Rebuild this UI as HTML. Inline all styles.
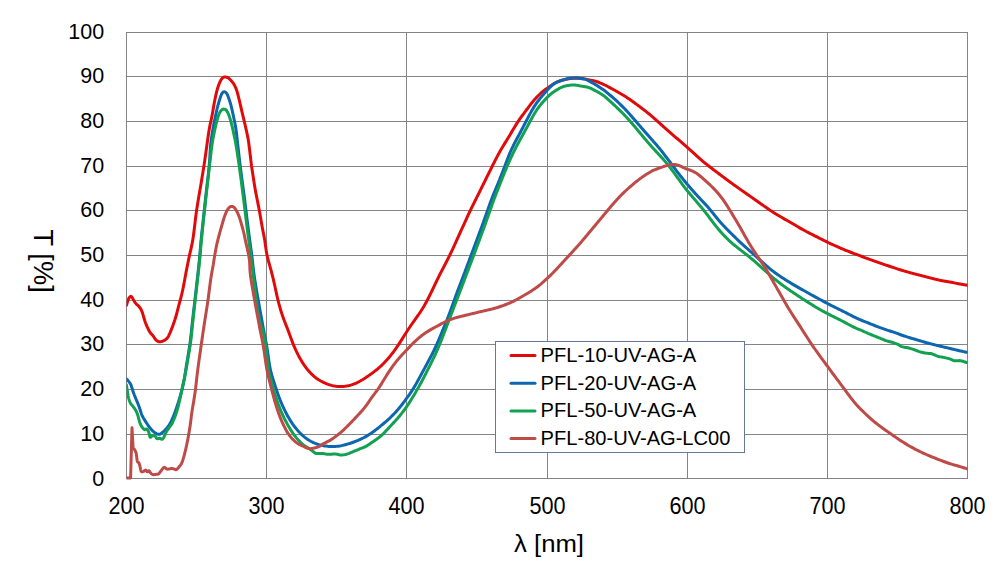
<!DOCTYPE html>
<html><head><meta charset="utf-8"><style>
html,body{margin:0;padding:0;background:#fff;width:999px;height:583px;overflow:hidden}
svg{display:block}
text{font-family:"Liberation Sans",sans-serif;fill:#000}
</style></head><body>
<svg width="999" height="583" viewBox="0 0 999 583">
<rect width="999" height="583" fill="#fff"/>
<g stroke="#848484" stroke-width="1" shape-rendering="crispEdges"><line x1="126" y1="32.5" x2="968" y2="32.5"/><line x1="126" y1="76.5" x2="968" y2="76.5"/><line x1="126" y1="121.5" x2="968" y2="121.5"/><line x1="126" y1="166.5" x2="968" y2="166.5"/><line x1="126" y1="210.5" x2="968" y2="210.5"/><line x1="126" y1="255.5" x2="968" y2="255.5"/><line x1="126" y1="300.5" x2="968" y2="300.5"/><line x1="126" y1="344.5" x2="968" y2="344.5"/><line x1="126" y1="389.5" x2="968" y2="389.5"/><line x1="126" y1="434.5" x2="968" y2="434.5"/><line x1="126" y1="478.5" x2="968" y2="478.5"/><line x1="126.5" y1="32" x2="126.5" y2="479"/><line x1="266.5" y1="32" x2="266.5" y2="479"/><line x1="406.5" y1="32" x2="406.5" y2="479"/><line x1="547.5" y1="32" x2="547.5" y2="479"/><line x1="687.5" y1="32" x2="687.5" y2="479"/><line x1="827.5" y1="32" x2="827.5" y2="479"/><line x1="967.5" y1="32" x2="967.5" y2="479"/></g>
<g font-size="21.5"><text x="104.2" y="39.2" text-anchor="end">100</text><text x="104.2" y="83.2" text-anchor="end">90</text><text x="104.2" y="128.2" text-anchor="end">80</text><text x="104.2" y="173.2" text-anchor="end">70</text><text x="104.2" y="217.2" text-anchor="end">60</text><text x="104.2" y="262.2" text-anchor="end">50</text><text x="104.2" y="307.2" text-anchor="end">40</text><text x="104.2" y="351.2" text-anchor="end">30</text><text x="104.2" y="396.2" text-anchor="end">20</text><text x="104.2" y="441.2" text-anchor="end">10</text><text x="104.2" y="486.2" text-anchor="end">0</text><text x="126.5" y="513.8" text-anchor="middle" font-size="23.2" textLength="36.1" lengthAdjust="spacingAndGlyphs">200</text><text x="266.5" y="513.8" text-anchor="middle" font-size="23.2" textLength="36.1" lengthAdjust="spacingAndGlyphs">300</text><text x="406.5" y="513.8" text-anchor="middle" font-size="23.2" textLength="36.1" lengthAdjust="spacingAndGlyphs">400</text><text x="547.5" y="513.8" text-anchor="middle" font-size="23.2" textLength="36.1" lengthAdjust="spacingAndGlyphs">500</text><text x="687.5" y="513.8" text-anchor="middle" font-size="23.2" textLength="36.1" lengthAdjust="spacingAndGlyphs">600</text><text x="827.5" y="513.8" text-anchor="middle" font-size="23.2" textLength="36.1" lengthAdjust="spacingAndGlyphs">700</text><text x="967.5" y="513.8" text-anchor="middle" font-size="23.2" textLength="36.1" lengthAdjust="spacingAndGlyphs">800</text></g>
<defs><clipPath id="pa"><rect x="126.6" y="0" width="841" height="583"/></clipPath></defs><g clip-path="url(#pa)" fill="none" stroke-width="3" stroke-linejoin="round" stroke-linecap="round"><path d="M126.50,305.40 L126.71,304.66 L126.99,303.60 L127.33,302.36 L127.70,301.08 L128.10,299.92 L128.50,299.00 L128.91,298.26 L129.34,297.56 L129.79,296.97 L130.26,296.55 L130.77,296.37 L131.30,296.50 L131.87,297.04 L132.48,297.97 L133.12,299.13 L133.77,300.39 L134.44,301.59 L135.10,302.60 L135.78,303.40 L136.49,304.12 L137.21,304.78 L137.92,305.43 L138.59,306.09 L139.20,306.80 L139.73,307.49 L140.21,308.13 L140.64,308.78 L141.07,309.53 L141.51,310.44 L142.00,311.60 L142.52,313.09 L143.06,314.85 L143.62,316.79 L144.19,318.78 L144.79,320.72 L145.40,322.50 L146.05,324.17 L146.74,325.82 L147.45,327.43 L148.16,328.93 L148.85,330.31 L149.50,331.50 L150.11,332.46 L150.68,333.20 L151.24,333.81 L151.79,334.36 L152.34,334.93 L152.90,335.60 L153.47,336.40 L154.04,337.28 L154.61,338.18 L155.19,339.03 L155.78,339.79 L156.40,340.40 L157.03,340.86 L157.67,341.23 L158.33,341.50 L159.01,341.67 L159.73,341.74 L160.50,341.70 L161.36,341.55 L162.31,341.27 L163.29,340.90 L164.27,340.44 L165.19,339.90 L166.00,339.30 L166.66,338.71 L167.21,338.14 L167.70,337.50 L168.19,336.69 L168.74,335.62 L169.40,334.20 L170.21,332.35 L171.13,330.11 L172.11,327.62 L173.09,325.00 L174.04,322.35 L174.90,319.80 L175.67,317.31 L176.39,314.77 L177.08,312.21 L177.73,309.66 L178.37,307.14 L179.00,304.70 L179.62,302.39 L180.21,300.20 L180.79,298.06 L181.36,295.86 L181.92,293.54 L182.50,291.00 L183.12,287.99 L183.80,284.53 L184.47,280.94 L185.09,277.54 L185.62,274.66 L186.00,272.60 L186.29,271.12 L186.58,269.65 L186.86,268.17 L187.15,266.69 L187.45,265.22 L187.74,263.74 L188.04,262.27 L188.34,260.80 L188.64,259.32 L188.96,257.85 L189.27,256.38 L189.60,254.91 L189.93,253.45 L190.26,251.98 L190.59,250.51 L190.93,249.05 L191.25,247.58 L191.57,246.11 L191.88,244.64 L192.17,243.17 L192.45,241.69 L192.71,240.21 L192.96,238.73 L193.19,237.24 L193.41,235.76 L193.62,234.27 L193.81,232.78 L194.00,231.28 L194.19,229.79 L194.36,228.30 L194.54,226.81 L194.72,225.31 L194.89,223.82 L195.06,222.32 L195.24,220.83 L195.42,219.34 L195.60,217.84 L195.79,216.35 L195.98,214.86 L196.18,213.37 L196.38,211.88 L196.60,210.39 L196.81,208.90 L197.04,207.41 L197.27,205.93 L197.51,204.44 L197.75,202.96 L197.99,201.47 L198.24,199.99 L198.49,198.51 L198.75,197.03 L199.00,195.54 L199.25,194.06 L199.51,192.58 L199.76,191.09 L200.01,189.61 L200.26,188.13 L200.52,186.65 L200.77,185.16 L201.02,183.68 L201.27,182.20 L201.52,180.71 L201.77,179.23 L202.01,177.75 L202.26,176.26 L202.51,174.78 L202.75,173.29 L203.00,171.81 L203.24,170.32 L203.47,168.84 L203.71,167.35 L203.94,165.87 L204.17,164.38 L204.39,162.89 L204.62,161.41 L204.83,159.92 L205.05,158.43 L205.26,156.94 L205.47,155.45 L205.68,153.96 L205.89,152.47 L206.09,150.98 L206.30,149.49 L206.50,148.00 L206.79,145.93 L207.20,143.03 L207.68,139.61 L208.19,136.00 L208.71,132.52 L209.20,129.50 L209.66,126.96 L210.13,124.63 L210.60,122.44 L211.07,120.29 L211.54,118.11 L212.00,115.80 L212.46,113.32 L212.91,110.74 L213.36,108.12 L213.80,105.53 L214.25,103.04 L214.70,100.70 L215.15,98.50 L215.60,96.39 L216.04,94.38 L216.49,92.46 L216.94,90.67 L217.40,89.00 L217.86,87.47 L218.33,86.06 L218.80,84.76 L219.27,83.58 L219.74,82.49 L220.20,81.50 L220.65,80.60 L221.10,79.81 L221.55,79.11 L222.00,78.51 L222.45,78.01 L222.90,77.60 L223.36,77.30 L223.83,77.13 L224.30,77.05 L224.77,77.04 L225.24,77.06 L225.70,77.10 L226.15,77.15 L226.60,77.23 L227.05,77.34 L227.50,77.51 L227.95,77.72 L228.40,78.00 L228.86,78.35 L229.33,78.77 L229.80,79.24 L230.27,79.75 L230.74,80.28 L231.20,80.80 L231.65,81.30 L232.10,81.79 L232.55,82.29 L233.00,82.84 L233.45,83.46 L233.90,84.20 L234.36,85.02 L234.83,85.91 L235.30,86.87 L235.77,87.93 L236.24,89.10 L236.70,90.40 L237.16,91.86 L237.61,93.48 L238.06,95.21 L238.50,97.02 L238.95,98.86 L239.40,100.70 L239.85,102.56 L240.30,104.47 L240.74,106.41 L241.19,108.38 L241.64,110.35 L242.10,112.30 L242.56,114.24 L243.03,116.17 L243.50,118.10 L243.97,120.04 L244.44,122.01 L244.90,124.00 L245.37,126.07 L245.86,128.22 L246.34,130.39 L246.80,132.52 L247.23,134.55 L247.60,136.40 L247.90,137.91 L248.12,139.10 L248.31,140.18 L248.50,141.38 L248.72,142.91 L249.00,145.00 L249.38,147.99 L249.84,151.77 L250.34,155.89 L250.81,159.89 L251.22,163.31 L251.50,165.70 L251.73,167.18 L251.95,168.67 L252.18,170.15 L252.41,171.63 L252.63,173.11 L252.86,174.60 L253.09,176.08 L253.32,177.56 L253.54,179.05 L253.77,180.53 L254.01,182.01 L254.24,183.49 L254.48,184.97 L254.72,186.45 L254.97,187.93 L255.22,189.41 L255.49,190.89 L255.76,192.36 L256.03,193.84 L256.32,195.31 L256.61,196.78 L256.90,198.25 L257.20,199.72 L257.50,201.19 L257.80,202.66 L258.09,204.13 L258.38,205.60 L258.67,207.07 L258.95,208.55 L259.23,210.02 L259.51,211.50 L259.78,212.97 L260.04,214.45 L260.30,215.92 L260.55,217.40 L260.80,218.88 L261.04,220.36 L261.29,221.84 L261.54,223.32 L261.79,224.80 L262.05,226.27 L262.33,227.75 L262.61,229.22 L262.90,230.69 L263.19,232.16 L263.49,233.63 L263.79,235.10 L264.07,236.57 L264.34,238.04 L264.60,239.52 L264.85,240.99 L265.07,242.47 L265.29,243.96 L265.49,245.44 L265.69,246.93 L265.90,248.41 L266.11,249.89 L266.33,251.37 L266.58,252.84 L266.86,254.31 L267.16,255.77 L267.49,257.23 L267.85,258.68 L268.22,260.12 L268.62,261.57 L269.02,263.01 L269.42,264.45 L269.83,265.89 L270.23,267.34 L270.62,268.78 L271.01,270.23 L271.40,271.68 L271.77,273.13 L272.14,274.59 L272.51,276.04 L272.87,277.50 L273.22,278.96 L273.57,280.42 L273.91,281.88 L274.25,283.34 L274.57,284.80 L274.90,286.27 L275.22,287.73 L275.53,289.20 L275.85,290.66 L276.16,292.13 L276.48,293.60 L276.80,295.06 L277.13,296.52 L277.47,297.99 L277.82,299.44 L278.18,300.90 L278.54,302.35 L278.92,303.80 L279.31,305.25 L279.71,306.70 L280.13,308.14 L280.55,309.58 L280.99,311.01 L281.43,312.44 L281.89,313.87 L282.37,315.29 L282.86,316.71 L283.36,318.12 L283.88,319.53 L284.41,320.93 L284.94,322.33 L285.49,323.73 L286.03,325.12 L286.58,326.52 L287.13,327.92 L287.67,329.31 L288.21,330.72 L288.73,332.12 L289.26,333.52 L289.77,334.93 L290.29,336.34 L290.80,337.75 L291.32,339.16 L291.85,340.56 L292.38,341.96 L292.92,343.36 L293.48,344.75 L294.05,346.14 L294.64,347.51 L295.24,348.89 L295.86,350.25 L296.50,351.61 L297.15,352.96 L297.81,354.30 L298.50,355.63 L299.20,356.96 L299.92,358.27 L300.66,359.57 L301.42,360.86 L302.20,362.13 L303.01,363.39 L303.84,364.64 L304.70,365.86 L305.58,367.07 L306.48,368.26 L307.41,369.43 L308.37,370.58 L309.35,371.70 L310.35,372.80 L311.39,373.87 L312.45,374.91 L313.54,375.92 L314.66,376.88 L315.82,377.80 L317.02,378.67 L318.24,379.49 L319.50,380.26 L320.78,381.00 L322.09,381.69 L323.42,382.34 L324.77,382.96 L326.13,383.55 L327.51,384.09 L328.90,384.59 L330.31,385.03 L331.73,385.43 L333.17,385.76 L334.62,386.04 L336.08,386.25 L337.55,386.41 L339.03,386.50 L340.51,386.54 L341.99,386.52 L343.47,386.44 L344.94,386.30 L346.41,386.11 L347.86,385.85 L349.30,385.52 L350.73,385.14 L352.14,384.69 L353.53,384.19 L354.91,383.64 L356.27,383.04 L357.61,382.40 L358.94,381.72 L360.25,381.01 L361.54,380.26 L362.83,379.50 L364.10,378.71 L365.36,377.90 L366.61,377.07 L367.85,376.23 L369.08,375.38 L370.30,374.51 L371.52,373.64 L372.73,372.75 L373.92,371.85 L375.11,370.93 L376.28,370.00 L377.44,369.06 L378.58,368.09 L379.71,367.10 L380.82,366.10 L381.90,365.07 L382.97,364.02 L384.03,362.96 L385.06,361.88 L386.08,360.78 L387.09,359.67 L388.08,358.55 L389.05,357.41 L390.01,356.26 L390.96,355.10 L391.89,353.93 L392.81,352.74 L393.71,351.55 L394.60,350.34 L395.47,349.12 L396.33,347.89 L397.17,346.65 L398.01,345.41 L398.84,344.16 L399.65,342.90 L400.47,341.64 L401.27,340.38 L402.07,339.11 L402.87,337.84 L403.67,336.57 L404.47,335.30 L405.26,334.03 L406.07,332.76 L406.87,331.50 L407.69,330.24 L408.51,328.98 L409.34,327.74 L410.18,326.49 L411.03,325.25 L411.88,324.02 L412.74,322.79 L413.61,321.57 L414.48,320.35 L415.36,319.13 L416.23,317.92 L417.10,316.70 L417.97,315.47 L418.83,314.25 L419.68,313.01 L420.51,311.77 L421.32,310.51 L422.12,309.24 L422.90,307.97 L423.67,306.68 L424.42,305.38 L425.16,304.08 L425.88,302.76 L426.60,301.45 L427.30,300.12 L428.00,298.79 L428.69,297.46 L429.36,296.12 L430.03,294.78 L430.69,293.44 L431.35,292.09 L432.00,290.73 L432.65,289.38 L433.29,288.02 L433.93,286.67 L434.57,285.31 L435.21,283.96 L435.85,282.60 L436.50,281.25 L437.15,279.90 L437.81,278.55 L438.48,277.21 L439.15,275.86 L439.83,274.53 L440.51,273.19 L441.20,271.86 L441.89,270.53 L442.58,269.20 L443.28,267.87 L443.97,266.54 L444.67,265.21 L445.36,263.88 L446.05,262.55 L446.74,261.21 L447.43,259.88 L448.11,258.54 L448.78,257.20 L449.45,255.86 L450.11,254.51 L450.76,253.16 L451.41,251.81 L452.05,250.45 L452.69,249.10 L453.31,247.73 L453.94,246.37 L454.56,245.00 L455.18,243.64 L455.80,242.27 L456.41,240.90 L457.03,239.53 L457.64,238.17 L458.26,236.80 L458.88,235.43 L459.50,234.07 L460.12,232.70 L460.74,231.33 L461.36,229.97 L461.99,228.60 L462.61,227.24 L463.23,225.88 L463.85,224.51 L464.48,223.15 L465.10,221.78 L465.72,220.42 L466.34,219.05 L466.96,217.69 L467.59,216.32 L468.21,214.96 L468.84,213.60 L469.48,212.24 L470.12,210.88 L470.76,209.53 L471.42,208.18 L472.08,206.83 L472.74,205.49 L473.41,204.14 L474.08,202.80 L474.75,201.46 L475.42,200.12 L476.09,198.78 L476.77,197.44 L477.44,196.09 L478.11,194.75 L478.78,193.41 L479.45,192.07 L480.12,190.72 L480.78,189.38 L481.45,188.04 L482.12,186.69 L482.78,185.35 L483.45,184.00 L484.11,182.66 L484.77,181.31 L485.44,179.97 L486.10,178.62 L486.76,177.28 L487.43,175.93 L488.09,174.59 L488.76,173.24 L489.42,171.90 L490.09,170.55 L490.76,169.21 L491.43,167.87 L492.10,166.53 L492.77,165.18 L493.44,163.84 L494.12,162.50 L494.80,161.17 L495.48,159.83 L496.17,158.50 L496.86,157.17 L497.56,155.84 L498.26,154.52 L498.98,153.20 L499.70,151.89 L500.44,150.58 L501.19,149.29 L501.96,147.99 L502.73,146.71 L503.51,145.43 L504.30,144.15 L505.09,142.88 L505.88,141.61 L506.67,140.33 L507.45,139.05 L508.23,137.77 L509.01,136.49 L509.78,135.20 L510.54,133.91 L511.30,132.62 L512.06,131.33 L512.82,130.03 L513.59,128.74 L514.36,127.46 L515.14,126.18 L515.93,124.90 L516.72,123.63 L517.54,122.37 L518.36,121.12 L519.20,119.88 L520.05,118.65 L520.92,117.43 L521.80,116.21 L522.68,115.00 L523.58,113.80 L524.47,112.59 L525.37,111.39 L526.27,110.19 L527.17,108.99 L528.07,107.79 L528.97,106.59 L529.87,105.40 L530.78,104.20 L531.69,103.02 L532.62,101.85 L533.57,100.70 L534.54,99.56 L535.54,98.45 L536.56,97.37 L537.61,96.30 L538.68,95.26 L539.77,94.24 L540.88,93.23 L542.00,92.24 L543.13,91.25 L544.26,90.28 L545.40,89.30 L545.56,89.21 L545.72,89.13 L545.94,89.01 L546.29,88.81 L546.82,88.49 L547.60,88.00 L548.70,87.26 L550.10,86.28 L551.68,85.18 L553.34,84.06 L554.98,83.03 L556.50,82.20 L557.91,81.57 L559.29,81.05 L560.64,80.62 L561.99,80.25 L563.34,79.92 L564.70,79.60 L566.07,79.29 L567.43,79.02 L568.79,78.78 L570.16,78.58 L571.53,78.42 L572.90,78.30 L574.29,78.22 L575.71,78.19 L577.12,78.19 L578.53,78.23 L579.89,78.30 L581.20,78.40 L582.43,78.53 L583.58,78.69 L584.70,78.89 L585.82,79.11 L586.97,79.35 L588.20,79.60 L589.51,79.86 L590.87,80.12 L592.28,80.41 L593.69,80.72 L595.11,81.08 L596.50,81.50 L597.87,81.98 L599.24,82.52 L600.61,83.10 L601.97,83.71 L603.33,84.35 L604.70,85.00 L606.16,85.72 L607.74,86.53 L609.31,87.37 L610.77,88.16 L612.01,88.82 L612.90,89.30 L614.22,90.02 L615.53,90.74 L616.85,91.47 L618.16,92.20 L619.46,92.94 L620.76,93.69 L622.05,94.46 L623.33,95.24 L624.61,96.03 L625.87,96.83 L627.13,97.65 L628.38,98.48 L629.62,99.32 L630.85,100.18 L632.08,101.05 L633.29,101.92 L634.51,102.81 L635.72,103.70 L636.92,104.59 L638.13,105.48 L639.33,106.38 L640.53,107.29 L641.73,108.19 L642.92,109.10 L644.11,110.02 L645.29,110.94 L646.47,111.87 L647.65,112.81 L648.81,113.75 L649.97,114.71 L651.12,115.67 L652.26,116.64 L653.40,117.62 L654.53,118.61 L655.65,119.61 L656.77,120.61 L657.88,121.62 L659.00,122.62 L660.11,123.63 L661.22,124.64 L662.34,125.64 L663.46,126.64 L664.58,127.64 L665.70,128.63 L666.83,129.63 L667.96,130.62 L669.09,131.60 L670.22,132.59 L671.35,133.58 L672.48,134.56 L673.61,135.55 L674.75,136.53 L675.88,137.52 L677.02,138.50 L678.16,139.47 L679.30,140.45 L680.45,141.42 L681.59,142.39 L682.74,143.36 L683.88,144.34 L685.02,145.31 L686.16,146.29 L687.29,147.28 L688.41,148.27 L689.54,149.27 L690.65,150.27 L691.76,151.28 L692.87,152.30 L693.97,153.32 L695.07,154.34 L696.17,155.36 L697.27,156.37 L698.38,157.38 L699.50,158.39 L700.62,159.38 L701.75,160.36 L702.89,161.34 L704.05,162.30 L705.21,163.25 L706.37,164.19 L707.55,165.13 L708.73,166.05 L709.92,166.97 L711.11,167.89 L712.30,168.79 L713.50,169.70 L714.70,170.60 L715.90,171.50 L717.11,172.39 L718.31,173.29 L719.52,174.19 L720.72,175.09 L721.92,175.99 L723.12,176.89 L724.33,177.79 L725.53,178.69 L726.73,179.59 L727.93,180.48 L729.14,181.38 L730.35,182.27 L731.56,183.15 L732.77,184.04 L733.99,184.91 L735.21,185.78 L736.44,186.65 L737.67,187.52 L738.89,188.38 L740.12,189.24 L741.35,190.11 L742.58,190.97 L743.81,191.83 L745.04,192.69 L746.27,193.56 L747.49,194.42 L748.72,195.28 L749.95,196.15 L751.18,197.01 L752.41,197.88 L753.64,198.74 L754.86,199.60 L756.09,200.46 L757.32,201.32 L758.55,202.19 L759.78,203.05 L761.01,203.91 L762.24,204.77 L763.47,205.63 L764.70,206.49 L765.93,207.35 L767.17,208.21 L768.40,209.06 L769.65,209.90 L770.89,210.73 L772.15,211.56 L773.40,212.38 L774.67,213.18 L775.94,213.98 L777.22,214.77 L778.50,215.54 L779.79,216.31 L781.09,217.07 L782.38,217.83 L783.68,218.58 L784.99,219.32 L786.29,220.07 L787.60,220.81 L788.90,221.56 L790.20,222.30 L791.50,223.05 L792.80,223.80 L794.10,224.56 L795.39,225.32 L796.69,226.07 L797.99,226.83 L799.29,227.58 L800.59,228.33 L801.90,229.07 L803.20,229.80 L804.52,230.53 L805.84,231.24 L807.16,231.95 L808.49,232.65 L809.82,233.34 L811.16,234.02 L812.50,234.70 L813.84,235.37 L815.18,236.04 L816.52,236.71 L817.86,237.39 L819.20,238.07 L820.54,238.74 L821.88,239.42 L823.22,240.10 L824.56,240.78 L825.90,241.44 L827.25,242.10 L828.60,242.75 L829.96,243.39 L831.32,244.02 L832.69,244.64 L834.06,245.25 L835.43,245.86 L836.80,246.47 L838.18,247.07 L839.56,247.67 L840.93,248.27 L842.31,248.86 L843.69,249.45 L845.08,250.02 L846.47,250.59 L847.86,251.15 L849.26,251.70 L850.66,252.24 L852.06,252.77 L853.46,253.30 L854.87,253.83 L856.27,254.36 L857.68,254.89 L859.08,255.42 L860.49,255.95 L861.89,256.49 L863.29,257.02 L864.70,257.55 L866.10,258.07 L867.51,258.60 L868.92,259.12 L870.33,259.63 L871.74,260.14 L873.16,260.65 L874.57,261.15 L875.99,261.64 L877.41,262.14 L878.82,262.63 L880.24,263.11 L881.67,263.60 L883.09,264.08 L884.51,264.57 L885.93,265.05 L887.35,265.53 L888.78,266.01 L890.20,266.49 L891.62,266.96 L893.05,267.44 L894.47,267.91 L895.90,268.38 L897.32,268.85 L898.75,269.31 L900.18,269.77 L901.61,270.22 L903.05,270.66 L904.49,271.09 L905.93,271.51 L907.37,271.92 L908.82,272.33 L910.26,272.73 L911.71,273.12 L913.16,273.51 L914.61,273.89 L916.07,274.27 L917.52,274.64 L918.97,275.02 L920.43,275.40 L921.88,275.77 L923.33,276.15 L924.79,276.53 L926.24,276.91 L927.69,277.28 L929.15,277.66 L930.60,278.03 L932.06,278.40 L933.51,278.76 L934.97,279.12 L936.43,279.46 L937.89,279.79 L939.36,280.11 L940.83,280.42 L942.30,280.71 L943.77,280.99 L945.25,281.26 L946.73,281.53 L948.20,281.80 L949.68,282.06 L951.16,282.33 L952.63,282.60 L954.11,282.87 L955.58,283.15 L957.06,283.42 L958.54,283.70 L960.01,283.97 L961.49,284.25 L962.97,284.51 L964.44,284.78 L965.92,285.04 L967.40,285.30" stroke="#E10A0A"/><path d="M126.50,378.90 L126.76,379.20 L127.13,379.60 L127.57,380.09 L128.03,380.62 L128.49,381.17 L128.90,381.70 L129.26,382.18 L129.60,382.61 L129.93,383.06 L130.27,383.59 L130.62,384.25 L131.00,385.10 L131.41,386.20 L131.85,387.53 L132.31,388.98 L132.77,390.49 L133.24,391.95 L133.70,393.30 L134.16,394.53 L134.63,395.70 L135.10,396.84 L135.57,397.96 L136.04,399.07 L136.50,400.20 L136.95,401.32 L137.40,402.42 L137.85,403.51 L138.30,404.63 L138.75,405.78 L139.20,407.00 L139.66,408.34 L140.13,409.79 L140.60,411.27 L141.07,412.74 L141.54,414.10 L142.00,415.30 L142.44,416.29 L142.86,417.11 L143.27,417.83 L143.70,418.53 L144.17,419.26 L144.70,420.10 L145.30,421.07 L145.96,422.11 L146.66,423.20 L147.38,424.29 L148.10,425.33 L148.80,426.30 L149.48,427.21 L150.17,428.08 L150.85,428.92 L151.53,429.71 L152.22,430.44 L152.90,431.10 L153.60,431.70 L154.31,432.24 L155.03,432.73 L155.73,433.15 L156.39,433.51 L157.00,433.80 L157.54,434.03 L158.03,434.19 L158.49,434.28 L158.92,434.31 L159.35,434.29 L159.80,434.20 L160.24,434.05 L160.65,433.85 L161.06,433.58 L161.49,433.25 L161.96,432.86 L162.50,432.40 L163.11,431.87 L163.79,431.28 L164.51,430.62 L165.25,429.91 L165.99,429.13 L166.70,428.30 L167.39,427.43 L168.07,426.51 L168.76,425.54 L169.44,424.50 L170.12,423.35 L170.80,422.10 L171.48,420.73 L172.17,419.25 L172.85,417.68 L173.53,416.03 L174.22,414.30 L174.90,412.50 L175.60,410.57 L176.32,408.50 L177.04,406.35 L177.74,404.20 L178.40,402.12 L179.00,400.20 L179.53,398.48 L180.00,396.90 L180.43,395.41 L180.84,393.91 L181.26,392.33 L181.70,390.60 L182.19,388.55 L182.73,386.21 L183.27,383.80 L183.77,381.52 L184.19,379.58 L184.50,378.20 L184.72,376.72 L184.94,375.23 L185.16,373.75 L185.38,372.26 L185.61,370.78 L185.83,369.30 L186.07,367.82 L186.30,366.34 L186.54,364.85 L186.78,363.37 L187.02,361.89 L187.27,360.41 L187.52,358.93 L187.77,357.45 L188.01,355.98 L188.26,354.50 L188.51,353.02 L188.75,351.54 L188.99,350.06 L189.23,348.57 L189.46,347.09 L189.68,345.61 L189.89,344.12 L190.09,342.64 L190.28,341.15 L190.46,339.66 L190.64,338.17 L190.81,336.68 L190.98,335.19 L191.15,333.70 L191.31,332.21 L191.47,330.72 L191.63,329.23 L191.79,327.73 L191.95,326.24 L192.11,324.75 L192.27,323.26 L192.43,321.77 L192.59,320.28 L192.75,318.79 L192.91,317.29 L193.08,315.80 L193.24,314.31 L193.41,312.82 L193.58,311.33 L193.76,309.84 L193.93,308.35 L194.11,306.86 L194.29,305.37 L194.46,303.88 L194.64,302.39 L194.82,300.90 L194.99,299.41 L195.17,297.92 L195.34,296.43 L195.51,294.94 L195.68,293.45 L195.85,291.96 L196.02,290.47 L196.19,288.98 L196.36,287.49 L196.53,286.00 L196.70,284.51 L196.87,283.02 L197.03,281.53 L197.20,280.04 L197.37,278.55 L197.54,277.06 L197.70,275.57 L197.87,274.07 L198.03,272.58 L198.20,271.09 L198.36,269.60 L198.52,268.11 L198.68,266.62 L198.84,265.13 L199.00,263.63 L199.15,262.14 L199.30,260.65 L199.44,259.16 L199.58,257.66 L199.72,256.17 L199.85,254.67 L199.98,253.18 L200.11,251.69 L200.23,250.19 L200.36,248.70 L200.48,247.20 L200.61,245.71 L200.74,244.21 L200.88,242.72 L201.01,241.22 L201.16,239.73 L201.30,238.24 L201.45,236.75 L201.60,235.25 L201.76,233.76 L201.91,232.27 L202.07,230.78 L202.22,229.28 L202.38,227.79 L202.54,226.30 L202.70,224.81 L202.86,223.32 L203.02,221.83 L203.18,220.33 L203.34,218.84 L203.50,217.35 L203.66,215.86 L203.82,214.37 L203.98,212.88 L204.14,211.39 L204.31,209.89 L204.47,208.40 L204.63,206.91 L204.79,205.42 L204.95,203.93 L205.11,202.44 L205.28,200.95 L205.44,199.45 L205.60,197.96 L205.76,196.47 L205.92,194.98 L206.08,193.49 L206.25,192.00 L206.30,191.50 L206.63,188.63 L207.11,184.62 L207.66,179.89 L208.24,174.88 L208.77,170.00 L209.20,165.70 L209.51,161.88 L209.76,158.18 L209.96,154.62 L210.14,151.22 L210.35,148.01 L210.60,145.00 L210.90,142.23 L211.22,139.70 L211.56,137.34 L211.90,135.13 L212.25,132.99 L212.60,130.90 L212.94,128.90 L213.27,127.06 L213.61,125.29 L213.95,123.56 L214.31,121.78 L214.70,119.90 L215.11,117.88 L215.55,115.77 L216.01,113.61 L216.47,111.48 L216.94,109.42 L217.40,107.50 L217.87,105.68 L218.36,103.91 L218.84,102.23 L219.32,100.64 L219.78,99.19 L220.20,97.90 L220.58,96.78 L220.92,95.81 L221.24,94.98 L221.56,94.26 L221.87,93.64 L222.20,93.10 L222.54,92.65 L222.89,92.31 L223.24,92.07 L223.60,91.91 L223.95,91.83 L224.30,91.80 L224.65,91.83 L225.00,91.94 L225.36,92.11 L225.71,92.36 L226.06,92.69 L226.40,93.10 L226.73,93.56 L227.04,94.08 L227.36,94.67 L227.68,95.37 L228.02,96.20 L228.40,97.20 L228.82,98.38 L229.28,99.71 L229.76,101.19 L230.24,102.77 L230.73,104.45 L231.20,106.20 L231.66,108.07 L232.13,110.10 L232.59,112.23 L233.05,114.37 L233.49,116.49 L233.90,118.50 L234.29,120.36 L234.66,122.10 L235.01,123.80 L235.34,125.55 L235.67,127.42 L236.00,129.50 L236.31,131.76 L236.60,134.14 L236.88,136.64 L237.17,139.28 L237.47,142.06 L237.80,145.00 L238.15,148.09 L238.52,151.33 L238.90,154.71 L239.30,158.23 L239.74,161.89 L240.20,165.70 L240.74,169.96 L241.37,174.75 L242.02,179.67 L242.64,184.36 L243.19,188.43 L243.60,191.50 L243.86,193.41 L244.00,194.45 L244.06,194.86 L244.08,194.92 L244.08,194.88 L244.10,195.00 L244.28,196.49 L244.46,197.98 L244.64,199.47 L244.82,200.96 L245.00,202.45 L245.18,203.94 L245.36,205.43 L245.54,206.92 L245.72,208.41 L245.91,209.90 L246.09,211.39 L246.27,212.88 L246.45,214.37 L246.64,215.86 L246.82,217.35 L247.00,218.84 L247.19,220.33 L247.37,221.82 L247.56,223.31 L247.75,224.80 L247.94,226.29 L248.12,227.77 L248.31,229.26 L248.51,230.75 L248.70,232.24 L248.89,233.73 L249.09,235.22 L249.29,236.70 L249.49,238.19 L249.69,239.68 L249.90,241.17 L250.10,242.65 L250.31,244.14 L250.51,245.63 L250.71,247.11 L250.92,248.60 L251.12,250.09 L251.31,251.58 L251.50,253.07 L251.69,254.55 L251.87,256.04 L252.05,257.54 L252.22,259.03 L252.39,260.52 L252.55,262.01 L252.72,263.50 L252.88,264.99 L253.05,266.48 L253.23,267.97 L253.40,269.46 L253.59,270.95 L253.78,272.44 L253.97,273.93 L254.18,275.42 L254.39,276.90 L254.61,278.39 L254.83,279.87 L255.06,281.35 L255.29,282.84 L255.53,284.32 L255.77,285.80 L256.02,287.28 L256.27,288.76 L256.52,290.24 L256.77,291.72 L257.02,293.20 L257.28,294.68 L257.54,296.16 L257.79,297.64 L258.05,299.11 L258.31,300.59 L258.57,302.07 L258.84,303.55 L259.10,305.03 L259.36,306.50 L259.63,307.98 L259.89,309.46 L260.15,310.94 L260.42,312.41 L260.69,313.89 L260.95,315.37 L261.22,316.85 L261.48,318.32 L261.75,319.80 L262.02,321.28 L262.29,322.75 L262.56,324.23 L262.83,325.71 L263.10,327.18 L263.37,328.66 L263.65,330.13 L263.93,331.61 L264.21,333.08 L264.50,334.56 L264.79,336.03 L265.08,337.50 L265.37,338.97 L265.65,340.45 L265.94,341.92 L266.21,343.39 L266.48,344.87 L266.74,346.35 L266.99,347.83 L267.23,349.31 L267.46,350.79 L267.68,352.28 L267.89,353.76 L268.10,355.25 L268.30,356.73 L268.51,358.22 L268.71,359.71 L268.93,361.19 L269.15,362.68 L269.38,364.16 L269.63,365.63 L269.89,367.11 L270.18,368.58 L270.49,370.04 L270.83,371.50 L271.20,372.95 L271.59,374.39 L272.01,375.83 L272.44,377.26 L272.88,378.70 L273.33,380.12 L273.79,381.55 L274.25,382.98 L274.71,384.41 L275.17,385.84 L275.63,387.26 L276.10,388.69 L276.57,390.12 L277.04,391.54 L277.53,392.96 L278.02,394.37 L278.53,395.79 L279.05,397.19 L279.58,398.59 L280.13,399.99 L280.69,401.38 L281.26,402.77 L281.85,404.15 L282.46,405.52 L283.08,406.88 L283.71,408.24 L284.36,409.60 L285.02,410.94 L285.69,412.28 L286.38,413.61 L287.08,414.94 L287.80,416.25 L288.54,417.56 L289.30,418.85 L290.08,420.13 L290.88,421.39 L291.70,422.64 L292.55,423.88 L293.42,425.09 L294.31,426.29 L295.23,427.48 L296.16,428.64 L297.12,429.79 L298.11,430.91 L299.12,432.02 L300.15,433.09 L301.21,434.14 L302.30,435.16 L303.42,436.15 L304.56,437.10 L305.74,438.02 L306.94,438.89 L308.17,439.72 L309.43,440.51 L310.72,441.25 L312.03,441.95 L313.37,442.59 L314.73,443.18 L316.11,443.71 L317.51,444.20 L318.93,444.63 L320.37,445.01 L321.82,445.35 L323.27,445.65 L324.74,445.90 L326.22,446.11 L327.70,446.29 L329.18,446.42 L330.66,446.51 L332.15,446.54 L333.63,446.53 L335.12,446.46 L336.60,446.34 L338.07,446.17 L339.55,445.96 L341.01,445.70 L342.48,445.40 L343.93,445.07 L345.38,444.70 L346.83,444.31 L348.26,443.89 L349.69,443.45 L351.12,442.98 L352.53,442.49 L353.94,441.98 L355.34,441.45 L356.73,440.90 L358.12,440.32 L359.49,439.72 L360.85,439.09 L362.19,438.44 L363.53,437.77 L364.85,437.06 L366.16,436.33 L367.45,435.58 L368.73,434.80 L369.99,434.00 L371.24,433.17 L372.47,432.32 L373.69,431.45 L374.89,430.56 L376.08,429.65 L377.27,428.73 L378.44,427.80 L379.61,426.85 L380.77,425.90 L381.92,424.94 L383.07,423.98 L384.21,423.01 L385.35,422.03 L386.48,421.05 L387.60,420.05 L388.71,419.05 L389.81,418.03 L390.90,416.99 L391.97,415.95 L393.03,414.89 L394.08,413.81 L395.10,412.72 L396.12,411.62 L397.12,410.50 L398.10,409.37 L399.07,408.22 L400.02,407.07 L400.96,405.90 L401.88,404.72 L402.80,403.53 L403.70,402.33 L404.60,401.13 L405.49,399.92 L406.37,398.71 L407.25,397.49 L408.13,396.28 L408.99,395.05 L409.85,393.82 L410.70,392.59 L411.53,391.34 L412.35,390.09 L413.15,388.82 L413.94,387.55 L414.71,386.26 L415.47,384.97 L416.21,383.67 L416.94,382.36 L417.67,381.05 L418.39,379.73 L419.11,378.41 L419.82,377.09 L420.54,375.77 L421.25,374.45 L421.96,373.13 L422.67,371.80 L423.38,370.48 L424.09,369.16 L424.80,367.84 L425.51,366.52 L426.23,365.20 L426.94,363.87 L427.65,362.55 L428.36,361.23 L429.06,359.91 L429.77,358.58 L430.47,357.25 L431.16,355.92 L431.85,354.59 L432.53,353.25 L433.21,351.91 L433.87,350.57 L434.53,349.22 L435.17,347.86 L435.80,346.50 L436.42,345.14 L437.03,343.77 L437.63,342.39 L438.23,341.01 L438.81,339.63 L439.40,338.25 L439.98,336.86 L440.55,335.48 L441.13,334.09 L441.71,332.71 L442.28,331.32 L442.86,329.94 L443.44,328.55 L444.01,327.16 L444.58,325.78 L445.15,324.39 L445.72,323.00 L446.29,321.61 L446.85,320.22 L447.40,318.82 L447.95,317.42 L448.49,316.03 L449.03,314.62 L449.55,313.22 L450.08,311.81 L450.59,310.40 L451.11,308.99 L451.61,307.58 L452.12,306.17 L452.63,304.75 L453.13,303.34 L453.63,301.93 L454.14,300.51 L454.64,299.10 L455.15,297.69 L455.66,296.28 L456.18,294.87 L456.70,293.46 L457.22,292.05 L457.74,290.64 L458.27,289.24 L458.81,287.84 L459.34,286.43 L459.88,285.03 L460.42,283.63 L460.95,282.23 L461.49,280.83 L462.03,279.43 L462.56,278.03 L463.10,276.62 L463.63,275.22 L464.16,273.82 L464.69,272.41 L465.22,271.01 L465.75,269.60 L466.27,268.20 L466.80,266.79 L467.32,265.38 L467.85,263.98 L468.37,262.57 L468.90,261.17 L469.42,259.76 L469.95,258.35 L470.47,256.95 L471.00,255.54 L471.52,254.13 L472.05,252.73 L472.58,251.32 L473.10,249.92 L473.63,248.51 L474.15,247.11 L474.68,245.70 L475.21,244.29 L475.73,242.89 L476.26,241.48 L476.78,240.08 L477.30,238.67 L477.83,237.26 L478.35,235.85 L478.87,234.45 L479.39,233.04 L479.91,231.63 L480.43,230.22 L480.95,228.82 L481.47,227.41 L481.99,226.00 L482.50,224.59 L483.02,223.18 L483.53,221.77 L484.04,220.36 L484.55,218.94 L485.05,217.53 L485.55,216.12 L486.05,214.70 L486.55,213.28 L487.05,211.87 L487.55,210.45 L488.04,209.04 L488.54,207.62 L489.04,206.20 L489.54,204.79 L490.05,203.38 L490.57,201.97 L491.09,200.56 L491.62,199.16 L492.16,197.76 L492.71,196.36 L493.26,194.97 L493.83,193.58 L494.40,192.19 L494.97,190.80 L495.55,189.42 L496.12,188.03 L496.70,186.65 L497.28,185.26 L497.85,183.88 L498.43,182.49 L498.99,181.10 L499.56,179.71 L500.11,178.31 L500.67,176.92 L501.22,175.52 L501.76,174.12 L502.30,172.72 L502.84,171.32 L503.38,169.92 L503.91,168.52 L504.45,167.12 L504.98,165.71 L505.51,164.31 L506.04,162.90 L506.57,161.50 L507.10,160.10 L507.64,158.70 L508.18,157.30 L508.73,155.90 L509.29,154.51 L509.86,153.12 L510.45,151.74 L511.05,150.37 L511.67,149.00 L512.30,147.65 L512.95,146.30 L513.62,144.96 L514.30,143.62 L514.99,142.29 L515.69,140.96 L516.40,139.64 L517.11,138.32 L517.82,136.99 L518.53,135.67 L519.24,134.35 L519.95,133.02 L520.65,131.70 L521.35,130.37 L522.05,129.05 L522.75,127.72 L523.45,126.39 L524.14,125.06 L524.83,123.72 L525.52,122.39 L526.21,121.06 L526.91,119.73 L527.60,118.40 L528.30,117.07 L529.00,115.74 L529.70,114.42 L530.42,113.10 L531.14,111.78 L531.88,110.48 L532.63,109.18 L533.40,107.90 L534.20,106.63 L535.01,105.37 L535.84,104.13 L536.70,102.90 L537.57,101.69 L538.47,100.49 L539.39,99.30 L540.33,98.13 L541.28,96.98 L542.24,95.83 L543.22,94.69 L544.21,93.56 L545.20,92.44 L546.20,91.32 L547.20,90.20 L547.66,89.72 L548.29,89.04 L549.03,88.24 L549.84,87.40 L550.65,86.59 L551.40,85.90 L552.11,85.31 L552.83,84.76 L553.54,84.25 L554.26,83.77 L554.98,83.32 L555.70,82.90 L556.42,82.51 L557.13,82.17 L557.85,81.85 L558.57,81.56 L559.28,81.28 L560.00,81.00 L560.72,80.74 L561.43,80.49 L562.15,80.26 L562.87,80.03 L563.58,79.82 L564.30,79.60 L565.02,79.38 L565.73,79.16 L566.45,78.94 L567.17,78.73 L567.88,78.55 L568.60,78.40 L569.32,78.28 L570.03,78.19 L570.75,78.12 L571.47,78.07 L572.18,78.03 L572.90,78.00 L573.63,77.97 L574.39,77.96 L575.14,77.95 L575.88,77.96 L576.57,77.97 L577.20,78.00 L577.72,78.04 L578.15,78.09 L578.54,78.14 L578.94,78.21 L579.41,78.30 L580.00,78.40 L580.77,78.52 L581.67,78.65 L582.64,78.79 L583.62,78.95 L584.53,79.12 L585.30,79.30 L585.86,79.46 L586.24,79.58 L586.56,79.72 L586.92,79.91 L587.43,80.19 L588.20,80.60 L589.27,81.17 L590.57,81.86 L592.02,82.64 L593.54,83.48 L595.06,84.34 L596.50,85.20 L597.97,86.13 L599.54,87.17 L601.12,88.24 L602.58,89.24 L603.81,90.09 L604.70,90.70 L605.86,91.66 L607.01,92.62 L608.16,93.58 L609.31,94.54 L610.46,95.51 L611.60,96.48 L612.73,97.46 L613.86,98.45 L614.98,99.44 L616.10,100.45 L617.20,101.46 L618.30,102.48 L619.39,103.51 L620.47,104.55 L621.54,105.60 L622.59,106.67 L623.65,107.74 L624.69,108.81 L625.72,109.90 L626.74,111.00 L627.76,112.10 L628.77,113.21 L629.77,114.32 L630.77,115.44 L631.77,116.56 L632.75,117.69 L633.74,118.82 L634.72,119.96 L635.70,121.09 L636.68,122.23 L637.66,123.36 L638.64,124.50 L639.62,125.64 L640.60,126.77 L641.58,127.91 L642.57,129.04 L643.55,130.17 L644.53,131.30 L645.52,132.44 L646.51,133.57 L647.49,134.69 L648.48,135.82 L649.47,136.95 L650.47,138.07 L651.46,139.20 L652.45,140.32 L653.44,141.45 L654.44,142.57 L655.43,143.70 L656.41,144.83 L657.39,145.96 L658.36,147.10 L659.32,148.25 L660.27,149.41 L661.20,150.58 L662.12,151.75 L663.03,152.93 L663.94,154.12 L664.84,155.31 L665.74,156.50 L666.65,157.69 L667.56,158.87 L668.47,160.06 L669.38,161.25 L670.29,162.44 L671.19,163.63 L672.09,164.83 L672.98,166.04 L673.86,167.25 L674.75,168.45 L675.64,169.66 L676.53,170.86 L677.44,172.06 L678.35,173.25 L679.26,174.44 L680.19,175.62 L681.12,176.79 L682.06,177.96 L683.01,179.13 L683.95,180.29 L684.91,181.45 L685.86,182.60 L686.82,183.75 L687.79,184.90 L688.76,186.04 L689.74,187.18 L690.72,188.32 L691.70,189.44 L692.70,190.57 L693.69,191.69 L694.69,192.81 L695.70,193.92 L696.70,195.03 L697.72,196.14 L698.73,197.24 L699.75,198.33 L700.78,199.42 L701.81,200.51 L702.85,201.60 L703.88,202.68 L704.90,203.77 L705.92,204.87 L706.93,205.98 L707.92,207.10 L708.90,208.23 L709.87,209.38 L710.82,210.53 L711.77,211.69 L712.71,212.86 L713.65,214.03 L714.59,215.20 L715.52,216.37 L716.47,217.53 L717.42,218.70 L718.37,219.85 L719.34,220.99 L720.32,222.13 L721.31,223.25 L722.32,224.36 L723.33,225.46 L724.36,226.55 L725.40,227.63 L726.45,228.70 L727.50,229.77 L728.56,230.83 L729.63,231.89 L730.69,232.95 L731.75,234.01 L732.82,235.06 L733.88,236.12 L734.94,237.18 L736.01,238.24 L737.08,239.29 L738.15,240.34 L739.23,241.38 L740.31,242.41 L741.40,243.44 L742.50,244.46 L743.61,245.47 L744.73,246.47 L745.85,247.47 L746.97,248.46 L748.10,249.45 L749.23,250.44 L750.35,251.43 L751.48,252.42 L752.60,253.41 L753.72,254.41 L754.84,255.41 L755.96,256.41 L757.07,257.42 L758.18,258.42 L759.30,259.43 L760.41,260.44 L761.52,261.44 L762.63,262.45 L763.75,263.45 L764.87,264.45 L766.00,265.44 L767.13,266.42 L768.27,267.39 L769.42,268.35 L770.58,269.30 L771.75,270.23 L772.93,271.15 L774.13,272.06 L775.33,272.95 L776.55,273.82 L777.78,274.69 L779.01,275.54 L780.25,276.38 L781.49,277.22 L782.75,278.04 L784.00,278.86 L785.27,279.67 L786.53,280.47 L787.81,281.26 L789.08,282.05 L790.37,282.83 L791.65,283.60 L792.94,284.36 L794.24,285.11 L795.54,285.86 L796.84,286.61 L798.14,287.35 L799.45,288.09 L800.75,288.83 L802.06,289.57 L803.37,290.31 L804.67,291.04 L805.98,291.78 L807.29,292.52 L808.59,293.25 L809.90,293.98 L811.22,294.71 L812.53,295.43 L813.84,296.16 L815.16,296.87 L816.48,297.59 L817.80,298.30 L819.12,299.02 L820.44,299.73 L821.76,300.44 L823.08,301.15 L824.40,301.86 L825.72,302.57 L827.05,303.28 L828.37,303.98 L829.70,304.67 L831.04,305.36 L832.37,306.03 L833.72,306.70 L835.06,307.36 L836.41,308.02 L837.76,308.67 L839.11,309.32 L840.46,309.98 L841.80,310.64 L843.14,311.32 L844.47,312.00 L845.81,312.68 L847.13,313.38 L848.46,314.07 L849.79,314.76 L851.12,315.45 L852.46,316.13 L853.80,316.80 L855.15,317.45 L856.50,318.09 L857.87,318.72 L859.24,319.33 L860.61,319.92 L861.99,320.50 L863.38,321.06 L864.77,321.62 L866.17,322.17 L867.56,322.72 L868.96,323.26 L870.35,323.82 L871.74,324.37 L873.14,324.93 L874.53,325.49 L875.92,326.05 L877.31,326.60 L878.70,327.14 L880.11,327.67 L881.51,328.18 L882.92,328.68 L884.34,329.16 L885.76,329.64 L887.19,330.10 L888.62,330.56 L890.04,331.01 L891.47,331.48 L892.89,331.95 L894.30,332.44 L895.72,332.94 L897.12,333.45 L898.53,333.96 L899.93,334.48 L901.34,334.99 L902.75,335.49 L904.16,335.98 L905.58,336.45 L907.00,336.91 L908.43,337.35 L909.87,337.78 L911.30,338.21 L912.74,338.63 L914.18,339.05 L915.62,339.47 L917.06,339.90 L918.49,340.32 L919.93,340.75 L921.37,341.17 L922.81,341.60 L924.25,342.02 L925.69,342.44 L927.13,342.85 L928.58,343.25 L930.02,343.65 L931.47,344.03 L932.92,344.41 L934.38,344.78 L935.83,345.13 L937.29,345.48 L938.75,345.83 L940.21,346.17 L941.67,346.50 L943.14,346.84 L944.60,347.17 L946.06,347.52 L947.52,347.86 L948.97,348.21 L950.43,348.57 L951.89,348.92 L953.34,349.28 L954.80,349.63 L956.26,349.99 L957.72,350.33 L959.18,350.67 L960.64,351.00 L962.10,351.33 L963.57,351.66 L965.03,351.98 L966.50,352.30" stroke="#0D66B0"/><path d="M126.50,385.10 L126.68,386.35 L126.93,388.11 L127.22,390.18 L127.54,392.34 L127.87,394.38 L128.20,396.10 L128.52,397.51 L128.85,398.80 L129.19,399.97 L129.54,401.03 L129.91,402.01 L130.30,402.90 L130.71,403.67 L131.15,404.29 L131.61,404.82 L132.07,405.31 L132.54,405.82 L133.00,406.40 L133.47,407.04 L133.96,407.70 L134.44,408.37 L134.92,409.06 L135.38,409.77 L135.80,410.50 L136.18,411.23 L136.52,411.95 L136.84,412.69 L137.16,413.47 L137.47,414.34 L137.80,415.30 L138.14,416.43 L138.49,417.72 L138.84,419.09 L139.20,420.44 L139.55,421.71 L139.90,422.80 L140.24,423.71 L140.58,424.50 L140.91,425.20 L141.26,425.83 L141.62,426.43 L142.00,427.00 L142.42,427.58 L142.88,428.14 L143.35,428.66 L143.82,429.11 L144.28,429.46 L144.70,429.70 L145.09,429.73 L145.45,429.57 L145.79,429.31 L146.13,429.06 L146.46,428.92 L146.80,429.00 L147.15,429.31 L147.50,429.78 L147.84,430.36 L148.18,431.01 L148.50,431.70 L148.80,432.40 L149.06,433.19 L149.29,434.12 L149.50,435.09 L149.71,436.00 L149.94,436.74 L150.20,437.20 L150.49,437.32 L150.79,437.17 L151.11,436.85 L151.45,436.46 L151.81,436.11 L152.20,435.90 L152.63,435.79 L153.10,435.70 L153.60,435.65 L154.10,435.65 L154.57,435.73 L155.00,435.90 L155.37,436.23 L155.70,436.71 L156.00,437.27 L156.30,437.82 L156.63,438.29 L157.00,438.60 L157.43,438.71 L157.90,438.67 L158.39,438.56 L158.89,438.41 L159.36,438.31 L159.80,438.30 L160.19,438.43 L160.56,438.65 L160.90,438.91 L161.23,439.15 L161.56,439.30 L161.90,439.30 L162.24,439.16 L162.57,438.93 L162.90,438.61 L163.23,438.21 L163.56,437.74 L163.90,437.20 L164.24,436.55 L164.57,435.77 L164.91,434.92 L165.25,434.05 L165.61,433.19 L166.00,432.40 L166.41,431.68 L166.83,431.01 L167.27,430.35 L167.73,429.69 L168.20,429.02 L168.70,428.30 L169.27,427.48 L169.91,426.57 L170.57,425.64 L171.19,424.77 L171.72,424.03 L172.10,423.50 L172.70,422.13 L173.30,420.75 L173.88,419.37 L174.45,417.99 L175.00,416.60 L175.52,415.19 L176.02,413.78 L176.49,412.36 L176.93,410.93 L177.35,409.50 L177.75,408.05 L178.14,406.60 L178.50,405.15 L178.86,403.69 L179.21,402.23 L179.55,400.77 L179.88,399.31 L180.21,397.84 L180.54,396.38 L180.86,394.91 L181.18,393.44 L181.50,391.98 L181.81,390.51 L182.12,389.04 L182.43,387.57 L182.74,386.10 L183.04,384.63 L183.35,383.16 L183.65,381.69 L183.96,380.23 L184.26,378.76 L184.57,377.29 L184.87,375.82 L185.17,374.35 L185.47,372.88 L185.75,371.41 L186.03,369.93 L186.31,368.46 L186.57,366.98 L186.82,365.50 L187.07,364.02 L187.31,362.54 L187.55,361.06 L187.79,359.58 L188.03,358.10 L188.28,356.62 L188.53,355.14 L188.78,353.66 L189.03,352.18 L189.29,350.70 L189.54,349.22 L189.78,347.74 L190.02,346.26 L190.24,344.78 L190.46,343.29 L190.66,341.81 L190.85,340.32 L191.02,338.83 L191.20,337.34 L191.36,335.85 L191.52,334.36 L191.67,332.86 L191.83,331.37 L191.98,329.88 L192.13,328.38 L192.29,326.89 L192.44,325.40 L192.60,323.90 L192.76,322.41 L192.92,320.92 L193.08,319.43 L193.24,317.93 L193.40,316.44 L193.56,314.95 L193.73,313.46 L193.89,311.97 L194.06,310.47 L194.22,308.98 L194.39,307.49 L194.56,306.00 L194.73,304.51 L194.89,303.02 L195.06,301.52 L195.23,300.03 L195.40,298.54 L195.57,297.05 L195.74,295.56 L195.91,294.07 L196.08,292.57 L196.25,291.08 L196.42,289.59 L196.58,288.10 L196.75,286.61 L196.92,285.12 L197.09,283.63 L197.26,282.13 L197.43,280.64 L197.60,279.15 L197.76,277.66 L197.93,276.17 L198.10,274.68 L198.26,273.18 L198.43,271.69 L198.59,270.20 L198.75,268.71 L198.92,267.22 L199.08,265.72 L199.23,264.23 L199.39,262.74 L199.54,261.24 L199.69,259.75 L199.83,258.26 L199.97,256.76 L200.10,255.27 L200.23,253.77 L200.36,252.28 L200.48,250.78 L200.61,249.28 L200.73,247.79 L200.86,246.29 L200.99,244.80 L201.12,243.30 L201.26,241.81 L201.40,240.31 L201.54,238.82 L201.69,237.33 L201.84,235.83 L201.99,234.34 L202.15,232.85 L202.30,231.35 L202.46,229.86 L202.62,228.37 L202.77,226.87 L202.93,225.38 L203.09,223.89 L203.25,222.40 L203.41,220.90 L203.57,219.41 L203.73,217.92 L203.89,216.43 L204.05,214.93 L204.22,213.44 L204.38,211.95 L204.54,210.46 L204.70,208.97 L204.86,207.47 L205.02,205.98 L205.19,204.49 L205.35,203.00 L205.51,201.50 L205.67,200.01 L205.84,198.52 L206.00,197.03 L206.16,195.53 L206.32,194.04 L206.49,192.55 L206.65,191.06 L206.82,189.57 L206.98,188.07 L207.14,186.58 L207.31,185.09 L207.48,183.60 L207.64,182.11 L207.81,180.62 L207.98,179.12 L208.15,177.63 L208.31,176.14 L208.48,174.65 L208.65,173.16 L208.82,171.67 L208.99,170.17 L209.16,168.68 L209.33,167.19 L209.50,165.70 L209.78,163.34 L210.17,159.99 L210.62,156.06 L211.11,151.98 L211.58,148.15 L212.00,145.00 L212.35,142.57 L212.67,140.54 L212.98,138.78 L213.29,137.12 L213.63,135.44 L214.00,133.60 L214.42,131.56 L214.88,129.42 L215.36,127.26 L215.84,125.14 L216.33,123.13 L216.80,121.30 L217.26,119.63 L217.71,118.06 L218.16,116.59 L218.60,115.26 L219.05,114.05 L219.50,113.00 L219.96,112.12 L220.42,111.39 L220.89,110.81 L221.34,110.33 L221.78,109.94 L222.20,109.60 L222.58,109.34 L222.94,109.19 L223.29,109.12 L223.62,109.11 L223.96,109.15 L224.30,109.20 L224.64,109.25 L224.98,109.29 L225.31,109.38 L225.66,109.55 L226.02,109.84 L226.40,110.30 L226.81,110.91 L227.25,111.66 L227.71,112.52 L228.17,113.50 L228.64,114.60 L229.10,115.80 L229.56,117.13 L230.03,118.60 L230.50,120.18 L230.97,121.85 L231.44,123.60 L231.90,125.40 L232.37,127.35 L232.86,129.49 L233.34,131.69 L233.80,133.87 L234.23,135.91 L234.60,137.70 L234.89,139.05 L235.10,140.01 L235.27,140.83 L235.45,141.76 L235.68,143.07 L236.00,145.00 L236.43,147.62 L236.93,150.72 L237.48,154.19 L238.05,157.93 L238.63,161.80 L239.20,165.70 L239.79,170.00 L240.44,174.88 L241.10,179.89 L241.71,184.62 L242.23,188.63 L242.60,191.50 L242.80,192.99 L242.99,194.48 L243.18,195.96 L243.37,197.45 L243.56,198.94 L243.75,200.43 L243.93,201.92 L244.12,203.41 L244.30,204.90 L244.48,206.39 L244.66,207.88 L244.84,209.37 L245.02,210.86 L245.21,212.35 L245.39,213.84 L245.57,215.33 L245.75,216.82 L245.94,218.30 L246.12,219.79 L246.31,221.28 L246.49,222.77 L246.68,224.26 L246.87,225.75 L247.06,227.24 L247.25,228.73 L247.44,230.22 L247.63,231.70 L247.82,233.19 L248.02,234.68 L248.22,236.17 L248.42,237.66 L248.62,239.14 L248.82,240.63 L249.03,242.12 L249.23,243.60 L249.44,245.09 L249.64,246.58 L249.85,248.06 L250.05,249.55 L250.25,251.04 L250.45,252.53 L250.64,254.01 L250.83,255.50 L251.02,256.99 L251.21,258.48 L251.39,259.97 L251.57,261.46 L251.75,262.95 L251.93,264.44 L252.11,265.93 L252.29,267.42 L252.46,268.91 L252.64,270.40 L252.82,271.89 L253.00,273.38 L253.18,274.87 L253.36,276.36 L253.54,277.85 L253.72,279.34 L253.90,280.83 L254.08,282.32 L254.26,283.81 L254.44,285.30 L254.62,286.79 L254.80,288.28 L254.99,289.77 L255.17,291.26 L255.35,292.75 L255.53,294.24 L255.71,295.73 L255.89,297.22 L256.08,298.71 L256.27,300.20 L256.45,301.68 L256.65,303.17 L256.84,304.66 L257.04,306.15 L257.25,307.63 L257.46,309.12 L257.69,310.60 L257.92,312.08 L258.18,313.56 L258.45,315.03 L258.74,316.50 L259.06,317.96 L259.40,319.41 L259.77,320.86 L260.17,322.30 L260.58,323.74 L261.00,325.17 L261.43,326.61 L261.86,328.04 L262.28,329.48 L262.69,330.92 L263.08,332.36 L263.45,333.81 L263.79,335.27 L264.12,336.73 L264.43,338.20 L264.73,339.67 L265.00,341.14 L265.26,342.62 L265.50,344.10 L265.72,345.58 L265.93,347.06 L266.13,348.55 L266.30,350.04 L266.47,351.53 L266.62,353.02 L266.77,354.51 L266.90,356.01 L267.04,357.50 L267.17,359.00 L267.31,360.49 L267.45,361.98 L267.60,363.48 L267.77,364.96 L267.95,366.45 L268.16,367.93 L268.39,369.41 L268.65,370.88 L268.94,372.35 L269.26,373.81 L269.60,375.27 L269.97,376.72 L270.35,378.17 L270.74,379.61 L271.15,381.06 L271.56,382.50 L271.97,383.94 L272.38,385.39 L272.79,386.83 L273.20,388.27 L273.61,389.71 L274.03,391.15 L274.45,392.59 L274.89,394.03 L275.32,395.47 L275.77,396.90 L276.23,398.33 L276.70,399.75 L277.18,401.17 L277.67,402.59 L278.18,404.00 L278.70,405.41 L279.23,406.81 L279.77,408.21 L280.34,409.60 L280.91,410.98 L281.50,412.36 L282.11,413.73 L282.73,415.10 L283.36,416.46 L284.01,417.81 L284.67,419.15 L285.35,420.49 L286.05,421.82 L286.76,423.14 L287.48,424.45 L288.22,425.75 L288.98,427.05 L289.75,428.33 L290.53,429.61 L291.34,430.87 L292.16,432.12 L293.01,433.36 L293.88,434.57 L294.77,435.77 L295.69,436.95 L296.64,438.10 L297.61,439.23 L298.61,440.33 L299.64,441.41 L300.70,442.47 L301.76,443.52 L302.84,444.56 L303.20,444.90 L303.82,445.28 L304.71,445.82 L305.74,446.46 L306.83,447.12 L307.85,447.76 L308.70,448.30 L309.37,448.74 L309.94,449.13 L310.44,449.49 L310.93,449.84 L311.43,450.20 L312.00,450.60 L312.60,451.07 L313.21,451.60 L313.83,452.14 L314.49,452.66 L315.21,453.09 L316.00,453.40 L316.88,453.55 L317.85,453.57 L318.88,453.52 L319.93,453.44 L320.98,453.38 L322.00,453.40 L322.99,453.51 L323.96,453.68 L324.93,453.87 L325.91,454.06 L326.93,454.21 L328.00,454.30 L329.14,454.30 L330.36,454.24 L331.60,454.14 L332.84,454.05 L334.06,453.99 L335.20,454.00 L336.27,454.11 L337.29,454.31 L338.27,454.54 L339.24,454.77 L340.21,454.93 L341.20,455.00 L342.20,454.97 L343.20,454.87 L344.20,454.71 L345.20,454.51 L346.20,454.27 L347.20,454.00 L348.20,453.68 L349.20,453.30 L350.20,452.89 L351.20,452.45 L352.20,452.02 L353.20,451.60 L354.19,451.21 L355.16,450.82 L356.12,450.44 L357.11,450.04 L358.13,449.63 L359.20,449.20 L360.41,448.70 L361.78,448.13 L363.18,447.55 L364.49,447.00 L365.60,446.53 L366.40,446.20 L367.64,445.35 L368.88,444.51 L370.12,443.67 L371.36,442.83 L372.60,441.99 L373.84,441.15 L375.08,440.30 L376.30,439.45 L377.51,438.57 L378.70,437.68 L379.87,436.75 L381.00,435.79 L382.11,434.80 L383.19,433.78 L384.25,432.73 L385.29,431.66 L386.31,430.57 L387.33,429.48 L388.34,428.38 L389.36,427.27 L390.38,426.18 L391.40,425.08 L392.43,423.99 L393.45,422.89 L394.47,421.80 L395.49,420.70 L396.49,419.58 L397.49,418.46 L398.47,417.33 L399.43,416.18 L400.38,415.02 L401.32,413.85 L402.24,412.67 L403.14,411.48 L404.04,410.27 L404.92,409.06 L405.79,407.84 L406.64,406.60 L407.49,405.37 L408.32,404.12 L409.15,402.87 L409.96,401.61 L410.76,400.34 L411.56,399.07 L412.35,397.79 L413.13,396.51 L413.90,395.23 L414.67,393.94 L415.43,392.64 L416.19,391.35 L416.93,390.05 L417.68,388.74 L418.42,387.44 L419.15,386.13 L419.88,384.82 L420.60,383.50 L421.32,382.18 L422.03,380.86 L422.74,379.54 L423.43,378.21 L424.13,376.88 L424.81,375.55 L425.50,374.21 L426.17,372.87 L426.85,371.53 L427.52,370.19 L428.19,368.85 L428.87,367.51 L429.54,366.17 L430.21,364.82 L430.88,363.48 L431.55,362.14 L432.21,360.79 L432.87,359.44 L433.53,358.09 L434.18,356.74 L434.82,355.38 L435.45,354.02 L436.07,352.66 L436.69,351.29 L437.29,349.92 L437.89,348.54 L438.48,347.16 L439.07,345.78 L439.64,344.40 L440.21,343.01 L440.77,341.62 L441.32,340.22 L441.87,338.83 L442.42,337.43 L442.96,336.03 L443.50,334.63 L444.03,333.23 L444.57,331.82 L445.10,330.42 L445.63,329.02 L446.16,327.61 L446.69,326.21 L447.22,324.81 L447.75,323.40 L448.29,322.00 L448.82,320.59 L449.35,319.19 L449.88,317.79 L450.41,316.38 L450.94,314.98 L451.48,313.58 L452.01,312.18 L452.55,310.77 L453.08,309.37 L453.62,307.97 L454.15,306.57 L454.69,305.17 L455.23,303.77 L455.77,302.37 L456.31,300.97 L456.85,299.57 L457.40,298.17 L457.94,296.77 L458.48,295.37 L459.02,293.97 L459.55,292.57 L460.09,291.17 L460.63,289.77 L461.16,288.36 L461.70,286.96 L462.23,285.56 L462.76,284.16 L463.30,282.75 L463.83,281.35 L464.36,279.95 L464.89,278.54 L465.42,277.14 L465.96,275.74 L466.49,274.33 L467.02,272.93 L467.55,271.53 L468.08,270.12 L468.62,268.72 L469.15,267.32 L469.68,265.91 L470.21,264.51 L470.74,263.11 L471.27,261.70 L471.80,260.30 L472.33,258.89 L472.86,257.49 L473.39,256.09 L473.92,254.68 L474.45,253.28 L474.98,251.87 L475.50,250.47 L476.03,249.06 L476.56,247.66 L477.08,246.25 L477.61,244.85 L478.13,243.44 L478.66,242.03 L479.18,240.63 L479.70,239.22 L480.22,237.81 L480.74,236.40 L481.26,235.00 L481.77,233.59 L482.29,232.18 L482.80,230.77 L483.32,229.36 L483.83,227.95 L484.34,226.54 L484.85,225.13 L485.36,223.71 L485.87,222.30 L486.37,220.89 L486.87,219.47 L487.38,218.06 L487.88,216.64 L488.38,215.23 L488.87,213.81 L489.37,212.40 L489.86,210.98 L490.36,209.56 L490.86,208.15 L491.35,206.73 L491.85,205.32 L492.35,203.90 L492.86,202.49 L493.37,201.08 L493.89,199.67 L494.41,198.27 L494.94,196.86 L495.48,195.46 L496.02,194.06 L496.56,192.66 L497.11,191.26 L497.66,189.87 L498.21,188.47 L498.77,187.08 L499.32,185.68 L499.88,184.29 L500.43,182.90 L500.99,181.50 L501.54,180.11 L502.10,178.71 L502.65,177.32 L503.21,175.92 L503.76,174.53 L504.32,173.14 L504.89,171.75 L505.45,170.36 L506.03,168.97 L506.61,167.59 L507.19,166.21 L507.78,164.83 L508.38,163.45 L508.98,162.08 L509.59,160.71 L510.20,159.34 L510.82,157.97 L511.45,156.61 L512.08,155.25 L512.73,153.89 L513.38,152.54 L514.04,151.19 L514.71,149.85 L515.39,148.52 L516.08,147.18 L516.78,145.86 L517.49,144.54 L518.21,143.22 L518.93,141.90 L519.65,140.59 L520.37,139.27 L521.10,137.96 L521.82,136.65 L522.55,135.33 L523.27,134.02 L523.99,132.70 L524.71,131.38 L525.43,130.07 L526.15,128.75 L526.86,127.43 L527.58,126.11 L528.29,124.79 L529.00,123.47 L529.71,122.14 L530.42,120.82 L531.13,119.50 L531.84,118.18 L532.56,116.87 L533.30,115.56 L534.04,114.27 L534.81,112.98 L535.60,111.71 L536.41,110.45 L537.25,109.22 L538.11,107.99 L539.00,106.79 L539.91,105.61 L540.85,104.44 L541.81,103.30 L542.79,102.17 L543.79,101.05 L544.80,99.95 L545.83,98.85 L546.86,97.76 L547.20,97.40 L547.66,96.98 L548.29,96.39 L549.03,95.69 L549.84,94.95 L550.65,94.23 L551.40,93.60 L552.11,93.05 L552.83,92.53 L553.54,92.02 L554.26,91.54 L554.98,91.07 L555.70,90.60 L556.42,90.13 L557.13,89.67 L557.85,89.22 L558.57,88.79 L559.28,88.38 L560.00,88.00 L560.72,87.66 L561.43,87.34 L562.15,87.04 L562.87,86.77 L563.58,86.53 L564.30,86.30 L565.02,86.10 L565.73,85.92 L566.45,85.77 L567.17,85.63 L567.88,85.51 L568.60,85.40 L569.32,85.30 L570.03,85.20 L570.75,85.12 L571.47,85.06 L572.18,85.02 L572.90,85.00 L573.63,85.01 L574.39,85.04 L575.14,85.09 L575.88,85.15 L576.57,85.22 L577.20,85.30 L577.69,85.37 L578.04,85.44 L578.36,85.53 L578.72,85.62 L579.24,85.74 L580.00,85.90 L581.05,86.07 L582.33,86.24 L583.76,86.44 L585.26,86.69 L586.77,87.00 L588.20,87.40 L589.58,87.90 L590.96,88.48 L592.35,89.13 L593.74,89.83 L595.12,90.56 L596.50,91.30 L597.97,92.13 L599.54,93.07 L601.12,94.04 L602.58,94.96 L603.81,95.74 L604.70,96.30 L605.80,97.32 L606.90,98.34 L608.00,99.36 L609.10,100.38 L610.21,101.40 L611.31,102.41 L612.41,103.43 L613.51,104.45 L614.61,105.47 L615.71,106.50 L616.80,107.52 L617.89,108.55 L618.98,109.59 L620.05,110.63 L621.12,111.69 L622.18,112.75 L623.24,113.81 L624.28,114.89 L625.32,115.98 L626.34,117.07 L627.36,118.17 L628.37,119.28 L629.37,120.40 L630.37,121.52 L631.35,122.65 L632.33,123.78 L633.31,124.92 L634.28,126.07 L635.25,127.21 L636.21,128.36 L637.17,129.52 L638.13,130.67 L639.09,131.83 L640.04,132.98 L641.00,134.14 L641.95,135.30 L642.91,136.45 L643.87,137.60 L644.84,138.75 L645.81,139.90 L646.78,141.04 L647.76,142.18 L648.74,143.31 L649.73,144.44 L650.72,145.56 L651.72,146.68 L652.73,147.80 L653.74,148.91 L654.75,150.01 L655.77,151.11 L656.79,152.21 L657.81,153.31 L658.83,154.41 L659.85,155.51 L660.86,156.62 L661.87,157.73 L662.86,158.85 L663.85,159.98 L664.83,161.12 L665.80,162.26 L666.76,163.41 L667.71,164.57 L668.65,165.74 L669.59,166.91 L670.51,168.10 L671.42,169.28 L672.33,170.48 L673.22,171.68 L674.11,172.89 L675.00,174.10 L675.88,175.31 L676.76,176.53 L677.64,177.75 L678.51,178.97 L679.38,180.19 L680.25,181.41 L681.13,182.63 L682.00,183.85 L682.89,185.06 L683.78,186.26 L684.68,187.46 L685.59,188.65 L686.51,189.83 L687.45,191.00 L688.40,192.16 L689.36,193.31 L690.33,194.45 L691.31,195.59 L692.29,196.73 L693.27,197.86 L694.25,199.00 L695.23,200.13 L696.21,201.27 L697.18,202.41 L698.15,203.56 L699.12,204.70 L700.08,205.85 L701.04,207.01 L702.00,208.16 L702.95,209.32 L703.89,210.49 L704.83,211.66 L705.75,212.84 L706.67,214.03 L707.57,215.22 L708.48,216.42 L709.38,217.62 L710.27,218.82 L711.18,220.01 L712.08,221.21 L712.99,222.40 L713.91,223.59 L714.84,224.77 L715.77,225.94 L716.71,227.11 L717.67,228.26 L718.63,229.42 L719.60,230.56 L720.59,231.69 L721.58,232.81 L722.59,233.92 L723.61,235.01 L724.64,236.10 L725.69,237.17 L726.75,238.23 L727.82,239.28 L728.91,240.31 L730.01,241.33 L731.12,242.33 L732.25,243.32 L733.39,244.29 L734.54,245.26 L735.70,246.21 L736.86,247.15 L738.04,248.08 L739.22,249.00 L740.41,249.92 L741.60,250.83 L742.79,251.75 L743.98,252.66 L745.16,253.58 L746.34,254.50 L747.52,255.43 L748.69,256.37 L749.85,257.32 L751.00,258.28 L752.14,259.25 L753.28,260.23 L754.41,261.22 L755.53,262.22 L756.65,263.22 L757.76,264.22 L758.88,265.23 L759.99,266.23 L761.10,267.24 L762.22,268.24 L763.33,269.25 L764.45,270.25 L765.57,271.25 L766.69,272.24 L767.82,273.24 L768.95,274.22 L770.08,275.20 L771.22,276.18 L772.37,277.14 L773.52,278.10 L774.68,279.06 L775.84,280.00 L777.02,280.94 L778.19,281.87 L779.38,282.78 L780.57,283.69 L781.77,284.59 L782.98,285.49 L784.19,286.37 L785.41,287.24 L786.64,288.11 L787.86,288.97 L789.10,289.82 L790.34,290.67 L791.58,291.51 L792.82,292.35 L794.07,293.19 L795.32,294.02 L796.57,294.85 L797.82,295.68 L799.07,296.50 L800.33,297.32 L801.59,298.14 L802.85,298.95 L804.11,299.77 L805.37,300.58 L806.63,301.38 L807.90,302.19 L809.17,302.99 L810.44,303.79 L811.71,304.58 L812.99,305.37 L814.27,306.16 L815.55,306.94 L816.84,307.71 L818.13,308.47 L819.42,309.23 L820.73,309.97 L822.03,310.70 L823.35,311.42 L824.67,312.13 L825.99,312.84 L827.33,313.53 L828.66,314.21 L830.00,314.89 L831.34,315.56 L832.68,316.23 L834.02,316.90 L835.37,317.57 L836.71,318.24 L838.05,318.92 L839.39,319.59 L840.73,320.27 L842.06,320.96 L843.39,321.65 L844.72,322.35 L846.04,323.06 L847.36,323.77 L848.68,324.48 L850.00,325.20 L850.65,325.53 L851.56,326.00 L852.62,326.55 L853.78,327.13 L854.93,327.70 L856.00,328.20 L857.00,328.63 L858.00,329.03 L859.00,329.41 L860.00,329.79 L861.00,330.18 L862.00,330.60 L863.00,331.05 L864.00,331.52 L865.00,332.00 L866.00,332.48 L867.00,332.95 L868.00,333.40 L869.00,333.82 L870.00,334.23 L871.00,334.62 L872.00,335.01 L873.00,335.40 L874.00,335.80 L875.00,336.20 L876.00,336.60 L877.00,337.00 L878.00,337.40 L879.00,337.80 L880.00,338.20 L881.00,338.61 L882.00,339.03 L883.00,339.44 L884.00,339.85 L885.00,340.24 L886.00,340.60 L887.00,340.92 L888.00,341.20 L889.00,341.47 L890.00,341.73 L891.00,342.00 L892.00,342.30 L893.03,342.63 L894.09,342.97 L895.14,343.32 L896.17,343.68 L897.13,344.04 L898.00,344.40 L898.72,344.77 L899.32,345.16 L899.85,345.56 L900.38,345.94 L900.98,346.29 L901.70,346.60 L902.57,346.85 L903.53,347.06 L904.56,347.23 L905.61,347.40 L906.67,347.58 L907.70,347.80 L908.70,348.05 L909.70,348.31 L910.70,348.59 L911.70,348.88 L912.70,349.18 L913.70,349.50 L914.70,349.85 L915.70,350.23 L916.70,350.62 L917.70,351.01 L918.70,351.37 L919.70,351.70 L920.70,351.99 L921.70,352.25 L922.70,352.49 L923.70,352.71 L924.70,352.92 L925.70,353.10 L926.70,353.24 L927.70,353.32 L928.70,353.39 L929.70,353.47 L930.70,353.59 L931.70,353.80 L932.70,354.12 L933.70,354.52 L934.70,354.97 L935.70,355.43 L936.70,355.85 L937.70,356.20 L938.70,356.47 L939.70,356.68 L940.70,356.86 L941.70,357.02 L942.70,357.20 L943.70,357.40 L944.71,357.63 L945.74,357.87 L946.78,358.11 L947.79,358.37 L948.77,358.63 L949.70,358.90 L950.56,359.20 L951.34,359.54 L952.10,359.89 L952.86,360.22 L953.64,360.50 L954.50,360.70 L955.43,360.78 L956.41,360.77 L957.42,360.70 L958.46,360.63 L959.49,360.62 L960.50,360.70 L961.57,360.92 L962.72,361.23 L963.88,361.60 L964.94,361.97 L965.85,362.28 L966.50,362.50" stroke="#12A150"/><path d="M126.70,477.90 L130.60,477.90 L132.00,427.80 L133.10,447.90 L134.50,449.50 L134.69,449.88 L134.96,450.37 L135.28,450.96 L135.61,451.67 L135.93,452.48 L136.20,453.40 L136.41,454.54 L136.59,455.94 L136.76,457.44 L136.92,458.91 L137.09,460.21 L137.30,461.20 L137.54,461.81 L137.81,462.14 L138.09,462.29 L138.38,462.40 L138.65,462.56 L138.90,462.90 L139.12,463.42 L139.33,464.01 L139.53,464.67 L139.72,465.37 L139.91,466.09 L140.10,466.80 L140.28,467.57 L140.43,468.41 L140.59,469.28 L140.76,470.10 L140.95,470.79 L141.20,471.30 L141.50,471.60 L141.85,471.74 L142.23,471.77 L142.63,471.71 L143.02,471.61 L143.40,471.50 L143.77,471.32 L144.15,471.04 L144.53,470.71 L144.90,470.40 L145.26,470.17 L145.60,470.10 L145.91,470.24 L146.20,470.54 L146.48,470.93 L146.75,471.33 L147.02,471.64 L147.30,471.80 L147.58,471.74 L147.87,471.52 L148.16,471.22 L148.44,470.93 L148.72,470.72 L149.00,470.70 L149.26,470.88 L149.51,471.21 L149.76,471.62 L150.02,472.08 L150.29,472.52 L150.60,472.90 L150.94,473.23 L151.30,473.57 L151.67,473.90 L152.07,474.19 L152.48,474.43 L152.90,474.60 L153.34,474.68 L153.80,474.68 L154.28,474.63 L154.76,474.55 L155.23,474.47 L155.70,474.40 L156.16,474.37 L156.62,474.37 L157.08,474.36 L157.53,474.31 L157.97,474.20 L158.40,474.00 L158.79,473.70 L159.16,473.31 L159.51,472.87 L159.87,472.37 L160.26,471.85 L160.70,471.30 L161.20,470.66 L161.74,469.89 L162.32,469.08 L162.90,468.34 L163.47,467.75 L164.00,467.40 L164.50,467.37 L164.99,467.59 L165.47,467.96 L165.93,468.38 L166.37,468.76 L166.80,469.00 L167.20,469.10 L167.57,469.14 L167.93,469.13 L168.28,469.10 L168.63,469.05 L169.00,469.00 L169.37,468.93 L169.74,468.83 L170.12,468.72 L170.50,468.61 L170.89,468.53 L171.30,468.50 L171.73,468.52 L172.19,468.59 L172.65,468.68 L173.11,468.79 L173.57,468.90 L174.00,469.00 L174.40,469.13 L174.78,469.32 L175.14,469.51 L175.51,469.65 L175.89,469.70 L176.30,469.60 L176.74,469.34 L177.20,468.96 L177.68,468.48 L178.16,467.94 L178.63,467.37 L179.10,466.80 L179.56,466.25 L180.02,465.70 L180.48,465.12 L180.93,464.49 L181.37,463.75 L181.80,462.90 L182.21,461.91 L182.60,460.81 L182.98,459.62 L183.36,458.36 L183.73,457.04 L184.10,455.70 L184.47,454.33 L184.84,452.91 L185.21,451.44 L185.57,449.92 L185.93,448.34 L186.30,446.70 L186.67,444.97 L187.05,443.16 L187.43,441.28 L187.80,439.38 L188.16,437.47 L188.50,435.60 L188.83,433.77 L189.14,431.95 L189.44,430.14 L189.73,428.30 L190.02,426.43 L190.30,424.50 L190.57,422.49 L190.83,420.42 L191.09,418.31 L191.34,416.18 L191.61,414.07 L191.90,412.00 L192.21,409.95 L192.55,407.91 L192.90,405.88 L193.25,403.87 L193.59,401.91 L193.90,400.00 L194.21,398.04 L194.52,396.00 L194.83,394.00 L195.10,392.17 L195.33,390.62 L195.50,389.50 L195.66,388.01 L195.82,386.51 L195.99,385.02 L196.15,383.52 L196.31,382.03 L196.48,380.53 L196.65,379.04 L196.82,377.55 L196.99,376.05 L197.17,374.56 L197.35,373.07 L197.54,371.58 L197.72,370.08 L197.92,368.59 L198.11,367.10 L198.31,365.61 L198.51,364.12 L198.72,362.63 L198.92,361.14 L199.13,359.66 L199.34,358.17 L199.55,356.68 L199.76,355.19 L199.98,353.70 L200.19,352.21 L200.40,350.73 L200.62,349.24 L200.83,347.75 L201.04,346.26 L201.26,344.77 L201.47,343.29 L201.68,341.80 L201.90,340.31 L202.11,338.82 L202.33,337.33 L202.54,335.85 L202.76,334.36 L202.97,332.87 L203.19,331.38 L203.41,329.90 L203.63,328.41 L203.85,326.92 L204.08,325.44 L204.31,323.95 L204.54,322.46 L204.77,320.98 L205.00,319.49 L205.23,318.01 L205.47,316.52 L205.70,315.04 L205.94,313.55 L206.18,312.07 L206.41,310.58 L206.65,309.10 L206.88,307.62 L207.11,306.13 L207.34,304.64 L207.56,303.16 L207.77,301.67 L207.98,300.18 L208.19,298.69 L208.39,297.20 L208.58,295.71 L208.77,294.22 L208.96,292.73 L209.15,291.24 L209.34,289.75 L209.53,288.26 L209.72,286.76 L209.92,285.27 L210.12,283.78 L210.32,282.29 L210.53,280.81 L210.74,279.32 L210.96,277.83 L211.19,276.35 L211.43,274.86 L211.68,273.38 L211.93,271.90 L212.20,270.42 L212.47,268.94 L212.74,267.46 L213.02,265.98 L213.20,265.00 L213.37,263.92 L213.60,262.43 L213.87,260.66 L214.18,258.75 L214.49,256.82 L214.80,255.00 L215.10,253.26 L215.41,251.50 L215.74,249.72 L216.07,247.93 L216.43,246.16 L216.80,244.40 L217.20,242.65 L217.62,240.91 L218.06,239.17 L218.51,237.45 L218.96,235.76 L219.40,234.10 L219.83,232.48 L220.27,230.89 L220.71,229.32 L221.14,227.78 L221.57,226.27 L222.00,224.80 L222.42,223.35 L222.84,221.91 L223.25,220.51 L223.66,219.14 L224.08,217.84 L224.50,216.60 L224.93,215.42 L225.36,214.28 L225.79,213.19 L226.23,212.18 L226.67,211.24 L227.10,210.40 L227.54,209.65 L227.98,208.99 L228.42,208.40 L228.86,207.89 L229.28,207.46 L229.70,207.10 L230.10,206.82 L230.49,206.64 L230.87,206.53 L231.24,206.47 L231.62,206.47 L232.00,206.50 L232.38,206.55 L232.76,206.64 L233.13,206.77 L233.51,206.96 L233.90,207.23 L234.30,207.60 L234.72,208.06 L235.14,208.61 L235.58,209.24 L236.02,209.93 L236.46,210.69 L236.90,211.50 L237.34,212.38 L237.79,213.35 L238.24,214.38 L238.68,215.44 L239.10,216.52 L239.50,217.60 L239.87,218.67 L240.21,219.75 L240.53,220.85 L240.85,221.97 L241.17,223.12 L241.50,224.30 L241.85,225.51 L242.20,226.73 L242.55,227.99 L242.90,229.28 L243.25,230.61 L243.60,232.00 L243.94,233.46 L244.27,234.98 L244.60,236.55 L244.93,238.14 L245.26,239.73 L245.60,241.30 L245.95,242.84 L246.30,244.36 L246.66,245.88 L247.02,247.42 L247.37,248.99 L247.70,250.60 L248.02,252.17 L248.33,253.67 L248.63,255.19 L248.93,256.86 L249.22,258.76 L249.50,261.00 L249.69,263.31 L249.77,265.55 L249.85,268.02 L250.03,271.05 L250.41,274.94 L251.10,280.00 L252.28,287.12 L253.89,296.22 L255.70,306.19 L257.49,315.89 L259.04,324.20 L260.10,330.00 L260.41,331.47 L260.73,332.94 L261.04,334.41 L261.34,335.88 L261.65,337.35 L261.95,338.82 L262.24,340.29 L262.52,341.77 L262.80,343.24 L263.07,344.72 L263.33,346.20 L263.58,347.68 L263.82,349.16 L264.05,350.65 L264.27,352.13 L264.49,353.62 L264.70,355.11 L264.91,356.59 L265.11,358.08 L265.32,359.57 L265.53,361.06 L265.74,362.54 L265.96,364.03 L266.19,365.51 L266.43,366.99 L266.69,368.47 L266.96,369.95 L267.25,371.42 L267.55,372.89 L267.87,374.36 L268.20,375.82 L268.55,377.28 L268.91,378.74 L269.27,380.20 L269.64,381.65 L270.01,383.11 L270.38,384.56 L270.75,386.02 L271.13,387.47 L271.50,388.93 L271.87,390.38 L272.25,391.84 L272.63,393.29 L273.01,394.74 L273.40,396.19 L273.80,397.64 L274.20,399.09 L274.60,400.54 L275.02,401.98 L275.44,403.42 L275.87,404.86 L276.32,406.29 L276.77,407.73 L277.23,409.15 L277.70,410.58 L278.19,412.00 L278.69,413.42 L279.20,414.83 L279.73,416.23 L280.28,417.63 L280.84,419.02 L281.41,420.40 L282.01,421.78 L282.63,423.15 L283.27,424.50 L283.92,425.85 L284.59,427.19 L285.28,428.53 L285.98,429.85 L286.69,431.18 L287.40,432.50 L287.91,433.19 L288.62,434.16 L289.46,435.30 L290.37,436.51 L291.30,437.68 L292.20,438.70 L293.08,439.61 L293.98,440.48 L294.91,441.32 L295.84,442.11 L296.78,442.84 L297.70,443.50 L298.62,444.07 L299.53,444.57 L300.45,445.00 L301.37,445.40 L302.28,445.79 L303.20,446.20 L304.12,446.65 L305.03,447.13 L305.95,447.61 L306.87,448.03 L307.78,448.38 L308.70,448.60 L309.62,448.69 L310.53,448.67 L311.45,448.56 L312.37,448.40 L313.28,448.20 L314.20,448.00 L315.14,447.78 L316.11,447.51 L317.07,447.21 L318.01,446.89 L318.90,446.55 L319.70,446.20 L320.36,445.85 L320.88,445.49 L321.34,445.11 L321.83,444.71 L322.43,444.28 L323.20,443.80 L324.27,443.23 L325.59,442.56 L327.02,441.85 L328.40,441.18 L329.57,440.61 L330.40,440.20 L331.63,439.35 L332.87,438.50 L334.09,437.64 L335.30,436.76 L336.50,435.86 L337.68,434.95 L338.84,434.01 L339.99,433.05 L341.12,432.07 L342.24,431.07 L343.35,430.06 L344.44,429.04 L345.52,428.00 L346.60,426.96 L347.67,425.91 L348.73,424.85 L349.78,423.78 L350.83,422.71 L351.87,421.63 L352.91,420.55 L353.94,419.46 L354.97,418.37 L356.00,417.28 L357.03,416.18 L358.05,415.08 L359.07,413.98 L360.08,412.88 L361.08,411.77 L362.08,410.65 L363.05,409.52 L364.01,408.37 L364.94,407.21 L365.85,406.02 L366.73,404.82 L367.59,403.60 L368.43,402.37 L369.27,401.14 L370.11,399.90 L370.95,398.68 L371.81,397.46 L372.68,396.25 L373.57,395.06 L374.47,393.87 L375.37,392.69 L376.27,391.50 L377.15,390.30 L378.02,389.09 L378.86,387.87 L379.68,386.63 L380.48,385.37 L381.27,384.10 L382.05,382.82 L382.82,381.54 L383.59,380.25 L384.37,378.97 L385.15,377.69 L385.94,376.42 L386.74,375.15 L387.55,373.89 L388.37,372.63 L389.19,371.38 L390.03,370.14 L390.87,368.90 L391.73,367.67 L392.59,366.44 L393.47,365.23 L394.36,364.03 L395.27,362.83 L396.20,361.66 L397.14,360.49 L398.09,359.34 L399.07,358.20 L400.06,357.08 L401.06,355.96 L402.07,354.86 L403.09,353.76 L404.11,352.67 L405.14,351.57 L406.17,350.48 L407.20,349.39 L408.23,348.30 L409.26,347.21 L410.29,346.13 L411.33,345.05 L412.38,343.98 L413.44,342.92 L414.51,341.87 L415.60,340.84 L416.70,339.83 L417.81,338.83 L418.95,337.85 L420.10,336.89 L421.26,335.96 L422.45,335.04 L423.65,334.15 L424.87,333.29 L426.10,332.45 L427.35,331.63 L428.62,330.85 L429.91,330.09 L431.21,329.35 L432.51,328.63 L433.82,327.93 L435.14,327.23 L436.45,326.53 L437.76,325.82 L439.06,325.11 L440.35,324.39 L441.65,323.68 L442.95,322.97 L444.26,322.27 L445.58,321.61 L446.92,320.97 L448.28,320.37 L449.65,319.81 L451.05,319.29 L452.45,318.81 L453.88,318.35 L455.31,317.93 L456.75,317.52 L458.20,317.13 L459.65,316.76 L461.10,316.40 L462.56,316.04 L464.01,315.68 L465.47,315.33 L466.93,314.97 L468.38,314.62 L469.84,314.26 L471.30,313.90 L472.75,313.54 L474.21,313.19 L475.67,312.84 L477.13,312.50 L478.59,312.16 L480.05,311.82 L481.52,311.49 L482.98,311.16 L484.44,310.83 L485.90,310.50 L487.37,310.16 L488.82,309.81 L490.28,309.45 L491.73,309.08 L493.18,308.69 L494.62,308.29 L496.06,307.87 L497.50,307.44 L498.93,306.99 L500.35,306.52 L501.77,306.04 L503.18,305.55 L504.59,305.03 L505.99,304.50 L507.38,303.95 L508.77,303.38 L510.14,302.79 L511.51,302.17 L512.86,301.53 L514.20,300.87 L515.54,300.20 L516.86,299.50 L518.18,298.78 L519.49,298.05 L520.79,297.31 L522.09,296.56 L523.38,295.81 L524.68,295.05 L525.97,294.28 L527.25,293.51 L528.53,292.73 L529.81,291.95 L531.08,291.15 L532.34,290.34 L533.59,289.52 L534.83,288.68 L536.05,287.82 L537.26,286.94 L538.45,286.04 L539.63,285.11 L540.79,284.17 L541.93,283.20 L543.05,282.22 L544.17,281.22 L545.27,280.21 L546.37,279.19 L547.46,278.17 L548.55,277.14 L549.64,276.11 L550.71,275.07 L551.78,274.02 L552.84,272.96 L553.89,271.89 L554.93,270.81 L555.96,269.72 L556.98,268.63 L558.00,267.53 L559.02,266.42 L560.03,265.32 L561.04,264.21 L562.06,263.11 L563.07,262.00 L564.08,260.89 L565.10,259.79 L566.11,258.68 L567.13,257.58 L568.14,256.48 L569.16,255.37 L570.17,254.27 L571.19,253.16 L572.20,252.06 L573.22,250.95 L574.23,249.85 L575.24,248.74 L576.25,247.63 L577.25,246.51 L578.25,245.39 L579.25,244.27 L580.24,243.15 L581.22,242.01 L582.20,240.88 L583.18,239.74 L584.15,238.59 L585.11,237.45 L586.08,236.30 L587.04,235.14 L587.99,233.99 L588.95,232.83 L589.91,231.68 L590.87,230.53 L591.83,229.37 L592.79,228.22 L593.75,227.07 L594.71,225.92 L595.67,224.76 L596.63,223.61 L597.59,222.46 L598.56,221.31 L599.52,220.16 L600.48,219.01 L601.44,217.85 L602.39,216.70 L603.35,215.54 L604.31,214.39 L605.27,213.24 L606.23,212.08 L607.19,210.93 L608.15,209.78 L609.11,208.63 L610.08,207.48 L611.05,206.34 L612.03,205.20 L613.01,204.07 L614.00,202.94 L614.99,201.81 L615.99,200.69 L616.99,199.58 L618.01,198.48 L619.03,197.38 L620.06,196.29 L621.10,195.22 L622.16,194.15 L623.22,193.10 L624.30,192.06 L625.39,191.03 L626.49,190.01 L627.59,189.00 L628.71,187.99 L629.84,187.00 L630.97,186.02 L632.11,185.05 L633.25,184.08 L634.41,183.12 L635.57,182.17 L636.74,181.24 L637.92,180.31 L639.11,179.40 L640.31,178.51 L641.52,177.63 L642.75,176.77 L643.98,175.92 L645.23,175.10 L646.49,174.29 L647.76,173.49 L649.04,172.71 L650.32,171.93 L651.61,171.17 L652.90,170.40 L653.86,170.05 L655.22,169.56 L656.81,168.98 L658.46,168.39 L659.98,167.84 L661.20,167.40 L662.08,167.08 L662.75,166.84 L663.30,166.64 L663.80,166.47 L664.34,166.30 L665.00,166.10 L665.77,165.87 L666.60,165.63 L667.46,165.38 L668.34,165.15 L669.23,164.95 L670.10,164.80 L670.96,164.68 L671.83,164.59 L672.70,164.53 L673.57,164.50 L674.44,164.52 L675.30,164.60 L676.15,164.74 L677.00,164.94 L677.85,165.18 L678.70,165.46 L679.55,165.77 L680.40,166.10 L681.25,166.46 L682.09,166.87 L682.94,167.31 L683.80,167.75 L684.68,168.19 L685.60,168.60 L686.58,168.98 L687.60,169.33 L688.65,169.68 L689.70,170.03 L690.73,170.40 L691.70,170.80 L692.62,171.22 L693.50,171.64 L694.36,172.09 L695.21,172.56 L696.05,173.06 L696.90,173.60 L697.81,174.24 L698.80,174.99 L699.77,175.78 L700.68,176.52 L701.45,177.15 L702.00,177.60 L703.11,178.61 L704.23,179.61 L705.34,180.62 L706.45,181.63 L707.56,182.65 L708.66,183.66 L709.76,184.69 L710.85,185.72 L711.93,186.76 L713.00,187.81 L714.05,188.88 L715.08,189.96 L716.10,191.07 L717.09,192.18 L718.07,193.32 L719.02,194.47 L719.96,195.64 L720.88,196.83 L721.78,198.02 L722.67,199.23 L723.54,200.46 L724.40,201.69 L725.24,202.93 L726.07,204.18 L726.89,205.44 L727.69,206.70 L728.49,207.97 L729.28,209.25 L730.07,210.53 L730.85,211.81 L731.63,213.09 L732.41,214.38 L733.18,215.66 L733.96,216.95 L734.73,218.24 L735.51,219.52 L736.28,220.81 L737.04,222.10 L737.81,223.40 L738.57,224.69 L739.32,225.99 L740.06,227.29 L740.81,228.60 L741.54,229.91 L742.28,231.22 L743.01,232.53 L743.74,233.84 L744.47,235.15 L745.21,236.46 L745.95,237.77 L746.69,239.07 L747.44,240.37 L748.20,241.67 L748.96,242.96 L749.74,244.25 L750.52,245.53 L751.31,246.81 L752.11,248.08 L752.92,249.34 L753.73,250.60 L754.56,251.86 L755.39,253.11 L756.23,254.35 L757.07,255.60 L757.91,256.84 L758.76,258.08 L759.61,259.32 L760.45,260.56 L761.29,261.80 L762.12,263.05 L762.94,264.31 L763.75,265.57 L764.55,266.84 L765.34,268.12 L766.12,269.40 L766.89,270.69 L767.65,271.98 L768.41,273.28 L769.16,274.58 L769.90,275.89 L770.64,277.19 L771.39,278.50 L772.13,279.80 L772.87,281.11 L773.62,282.41 L774.36,283.71 L775.11,285.02 L775.86,286.32 L776.60,287.62 L777.35,288.92 L778.10,290.23 L778.85,291.53 L779.59,292.83 L780.34,294.14 L781.08,295.44 L781.83,296.75 L782.57,298.05 L783.31,299.36 L784.05,300.66 L784.80,301.97 L785.54,303.27 L786.29,304.57 L787.05,305.87 L787.81,307.16 L788.59,308.45 L789.37,309.73 L790.15,311.01 L790.95,312.28 L791.76,313.54 L792.57,314.81 L793.39,316.07 L794.21,317.32 L795.03,318.58 L795.85,319.83 L796.68,321.09 L797.49,322.35 L798.31,323.61 L799.12,324.88 L799.93,326.14 L800.74,327.41 L801.54,328.68 L802.34,329.94 L803.15,331.21 L803.95,332.48 L804.76,333.75 L805.57,335.01 L806.38,336.27 L807.20,337.54 L808.02,338.79 L808.84,340.05 L809.66,341.31 L810.49,342.56 L811.33,343.80 L812.17,345.05 L813.01,346.29 L813.86,347.53 L814.72,348.76 L815.58,349.99 L816.44,351.22 L817.31,352.45 L818.19,353.67 L819.06,354.89 L819.95,356.10 L820.83,357.31 L821.72,358.53 L822.61,359.73 L823.50,360.94 L824.40,362.15 L825.29,363.36 L826.18,364.56 L827.08,365.77 L827.97,366.98 L828.86,368.19 L829.75,369.40 L830.63,370.61 L831.52,371.82 L832.41,373.03 L833.30,374.24 L834.20,375.45 L835.09,376.65 L835.99,377.86 L836.88,379.06 L837.78,380.26 L838.68,381.47 L839.59,382.67 L840.49,383.87 L841.39,385.07 L842.28,386.27 L843.18,387.48 L844.07,388.69 L844.96,389.90 L845.85,391.11 L846.74,392.32 L847.63,393.52 L848.53,394.73 L849.42,395.94 L850.32,397.14 L851.23,398.33 L852.15,399.52 L853.08,400.69 L854.03,401.86 L854.99,403.01 L855.96,404.15 L856.96,405.27 L857.97,406.37 L859.00,407.46 L860.04,408.54 L861.10,409.60 L862.17,410.65 L863.25,411.70 L864.33,412.73 L865.42,413.76 L866.52,414.79 L867.62,415.81 L868.73,416.82 L869.84,417.83 L870.96,418.83 L872.09,419.83 L873.22,420.81 L874.37,421.78 L875.52,422.73 L876.69,423.67 L877.87,424.60 L879.06,425.51 L880.26,426.41 L881.47,427.30 L882.69,428.17 L883.91,429.04 L885.14,429.90 L886.37,430.76 L887.60,431.62 L888.84,432.48 L890.07,433.34 L891.30,434.20 L892.53,435.05 L893.77,435.91 L895.00,436.77 L896.24,437.62 L897.48,438.46 L898.72,439.30 L899.97,440.13 L901.23,440.96 L902.49,441.77 L903.76,442.57 L905.03,443.36 L906.32,444.14 L907.60,444.92 L908.90,445.68 L910.20,446.43 L911.50,447.17 L912.82,447.89 L914.13,448.61 L915.46,449.32 L916.79,450.01 L918.13,450.69 L919.47,451.36 L920.82,452.01 L922.18,452.66 L923.54,453.28 L924.91,453.90 L926.28,454.50 L927.66,455.09 L929.05,455.67 L930.43,456.25 L931.83,456.81 L933.22,457.37 L934.61,457.93 L936.01,458.49 L937.40,459.04 L938.80,459.60 L940.19,460.15 L941.59,460.69 L942.99,461.23 L944.40,461.76 L945.81,462.27 L947.22,462.77 L948.64,463.24 L950.07,463.70 L951.50,464.14 L952.94,464.57 L954.38,464.99 L955.82,465.40 L957.26,465.81 L958.70,466.23 L960.14,466.65 L961.58,467.09 L963.01,467.53 L964.44,467.98 L965.87,468.44 L967.30,468.90" stroke="#BE4B48"/></g>
<g font-size="19.4"><rect x="495.5" y="341.5" width="249" height="111" fill="#fff" stroke="#65799A" stroke-width="1"/><line x1="511" y1="355.5" x2="535" y2="355.5" stroke="#E10A0A" stroke-width="3" stroke-linecap="round"/><text x="540.6" y="362.1" textLength="155.7" lengthAdjust="spacingAndGlyphs">PFL-10-UV-AG-A</text><line x1="511" y1="383.2" x2="535" y2="383.2" stroke="#0D66B0" stroke-width="3" stroke-linecap="round"/><text x="540.6" y="389.7" textLength="155.7" lengthAdjust="spacingAndGlyphs">PFL-20-UV-AG-A</text><line x1="511" y1="410.9" x2="535" y2="410.9" stroke="#12A150" stroke-width="3" stroke-linecap="round"/><text x="540.6" y="417.3" textLength="155.7" lengthAdjust="spacingAndGlyphs">PFL-50-UV-AG-A</text><line x1="511" y1="438.6" x2="535" y2="438.6" stroke="#BE4B48" stroke-width="3" stroke-linecap="round"/><text x="540.6" y="444.9" textLength="189.8" lengthAdjust="spacingAndGlyphs">PFL-80-UV-AG-LC00</text></g>
<text x="514" y="551.8" font-size="23" textLength="70" lengthAdjust="spacingAndGlyphs">λ [nm]</text>
<text transform="translate(34.2,229.6) rotate(90)" font-size="27.8" textLength="63.2" lengthAdjust="spacingAndGlyphs">T [%]</text>
</svg>
</body></html>
